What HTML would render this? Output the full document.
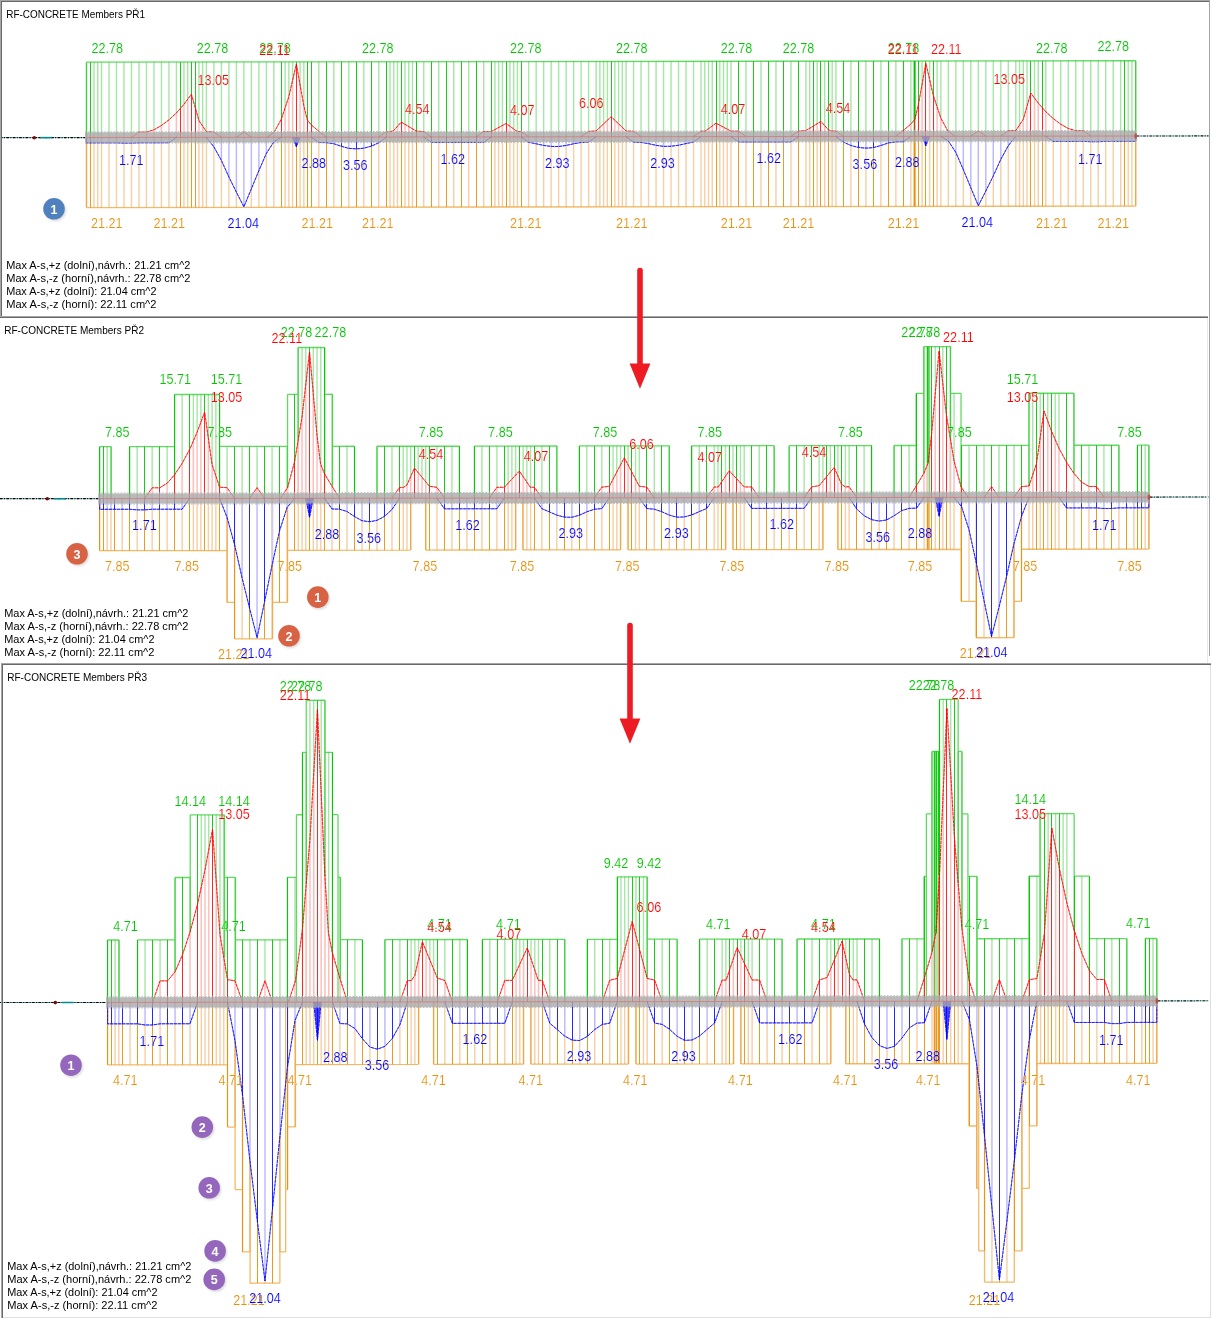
<!DOCTYPE html>
<html><head><meta charset="utf-8"><title>RF-CONCRETE Members</title>
<style>
html,body{margin:0;padding:0;background:#fff}
svg{display:block}
text{font-family:"Liberation Sans",sans-serif}
.lb text{font-size:15px;stroke:#fff;stroke-width:.15px}
.tt{font-size:11px;fill:#000}
.st{font-size:11px;fill:#000}
.cn{font-size:12.5px;font-weight:bold;fill:#fff;text-anchor:middle}
</style></head><body>
<svg width="1211" height="1320" viewBox="0 0 1211 1320">
<defs><filter id="bl" x="-30%" y="-30%" width="160%" height="160%"><feGaussianBlur stdDeviation="0.9"/></filter></defs>
<rect x="0" y="0" width="1211" height="1320" fill="#fff"/>
<g id="p1"><path d="M86.5 137.5V62.21M93.99 137.49V62.2M97.74 137.48V62.2M101.49 137.48V62.19M108.98 137.47V62.18M116.48 137.46V62.17M123.97 137.45V62.16M131.47 137.44V62.15M138.96 137.43V62.14M146.45 137.41V62.13M153.95 137.4V62.12M161.44 137.39V62.1M168.94 137.38V62.09M176.43 137.37V62.08M183.93 137.36V62.07M187.67 137.36V62.07M198.91 137.34V62.05M202.66 137.33V62.05M206.41 137.33V62.04M213.9 137.32V62.03M221.4 137.31V62.02M228.89 137.3V62.01M236.39 137.29V62M243.88 137.28V61.99M251.37 137.26V61.98M258.87 137.25V61.97M266.36 137.24V61.95M273.86 137.23V61.94M285.1 137.22V61.93M288.85 137.21V61.92M292.59 137.21V61.92M300.09 137.19V61.91M303.83 137.19V61.9M318.82 137.17V61.88M333.81 137.15V61.86M348.8 137.12V61.84M363.79 137.1V61.82M378.78 137.08V61.79M390.02 137.07V61.78M393.77 137.06V61.77M397.51 137.06V61.77M405.01 137.04V61.76M408.75 137.04V61.75M412.5 137.03V61.75M423.74 137.02V61.73M438.73 137V61.71M453.72 136.97V61.69M468.71 136.95V61.67M483.7 136.93V61.64M494.94 136.92V61.63M498.69 136.91V61.62M502.43 136.91V61.62M509.93 136.89V61.61M513.67 136.89V61.6M517.42 136.88V61.6M528.66 136.87V61.58M536.16 136.86V61.57M543.65 136.85V61.56M551.15 136.84V61.55M558.64 136.82V61.54M566.13 136.81V61.53M573.63 136.8V61.52M581.12 136.79V61.5M588.62 136.78V61.49M596.11 136.77V61.48M599.86 136.77V61.48M603.61 136.76V61.47M607.35 136.76V61.47M614.85 136.74V61.46M618.59 136.74V61.45M622.34 136.73V61.45M626.09 136.73V61.44M633.58 136.72V61.43M641.08 136.71V61.42M648.57 136.7V61.41M656.07 136.69V61.4M663.56 136.68V61.39M671.05 136.66V61.38M678.55 136.65V61.37M686.04 136.64V61.35M693.54 136.63V61.34M701.03 136.62V61.33M704.78 136.62V61.33M708.53 136.61V61.32M712.27 136.61V61.32M719.77 136.59V61.31M723.51 136.59V61.3M727.26 136.58V61.3M731.01 136.58V61.29M746 136.56V61.27M760.99 136.54V61.25M775.97 136.51V61.23M790.96 136.49V61.2M805.95 136.47V61.18M809.7 136.47V61.18M817.19 136.46V61.17M824.69 136.44V61.16M832.18 136.43V61.15M835.93 136.43V61.14M850.92 136.41V61.12M865.91 136.39V61.1M880.89 136.36V61.08M895.88 136.34V61.05M910.87 136.32V61.03M922.11 136.31V61.02M929.61 136.29V61.01M937.1 136.28V61M940.85 136.28V60.99M948.34 136.27V60.98M955.84 136.26V60.97M963.33 136.25V60.96M970.83 136.24V60.95M978.32 136.22V60.94M985.81 136.21V60.93M993.31 136.2V60.92M1000.8 136.19V60.9M1008.3 136.18V60.89M1015.79 136.17V60.88M1019.54 136.17V60.88M1023.29 136.16V60.87M1027.03 136.16V60.87M1034.53 136.14V60.86M1038.27 136.14V60.85M1045.77 136.13V60.84M1053.26 136.12V60.83M1060.76 136.11V60.82M1068.25 136.1V60.81M1075.75 136.09V60.8M1083.24 136.07V60.79M1090.73 136.06V60.78M1098.23 136.05V60.77M1105.72 136.04V60.75M1113.22 136.03V60.74M1120.71 136.02V60.73M1128.21 136.01V60.72M1131.95 136.01V60.72M1135.7 136V60.71" stroke="#a6e6a6" stroke-width="1.4" fill="none"/>
<path d="M90.5 137.49V62.21M180.5 137.37V62.08M191.5 137.35V62.06M195.5 137.34V62.06M281.5 137.22V61.93M296.5 137.2V61.91M307.5 137.18V61.9M311.5 137.18V61.89M326.5 137.16V61.87M341.5 137.14V61.85M356.5 137.11V61.83M371.5 137.09V61.8M386.5 137.07V61.78M401.5 137.05V61.76M416.5 137.03V61.74M431.5 137.01V61.72M446.5 136.99V61.7M461.5 136.96V61.68M476.5 136.94V61.65M491.5 136.92V61.63M506.5 136.9V61.61M521.5 136.88V61.59M611.5 136.75V61.46M716.5 136.6V61.31M738.5 136.57V61.28M753.5 136.55V61.26M768.5 136.53V61.24M783.5 136.5V61.22M798.5 136.48V61.19M813.5 136.46V61.17M820.5 136.45V61.16M828.5 136.44V61.15M843.5 136.42V61.13M858.5 136.4V61.11M873.5 136.38V61.09M888.5 136.35V61.07M903.5 136.33V61.04M914.5 136.32V61.03M918.5 136.31V61.02M925.5 136.3V61.01M933.5 136.29V61M1030.5 136.15V60.86M1042.5 136.13V60.85M1124.5 136.02V60.73" stroke="#00c400" stroke-width="1" fill="none" opacity=".9"/>
<path d="M86.5 137.5V62.21M1135.7 136V60.71M86.5 62.21L1135.7 60.71" stroke="#00c400" stroke-width="1.3" fill="none" opacity=".62"/>
<path d="M86.5 137.5V207.6M93.99 137.49V207.59M97.74 137.48V207.58M101.49 137.48V207.58M108.98 137.47V207.57M116.48 137.46V207.56M123.97 137.45V207.55M131.47 137.44V207.53M138.96 137.43V207.52M146.45 137.41V207.51M153.95 137.4V207.5M161.44 137.39V207.49M168.94 137.38V207.48M176.43 137.37V207.47M183.93 137.36V207.46M187.67 137.36V207.45M198.91 137.34V207.44M202.66 137.33V207.43M206.41 137.33V207.43M213.9 137.32V207.42M221.4 137.31V207.41M228.89 137.3V207.4M236.39 137.29V207.38M243.88 137.28V207.37M251.37 137.26V207.36M258.87 137.25V207.35M266.36 137.24V207.34M273.86 137.23V207.33M285.1 137.22V207.32M288.85 137.21V207.31M292.59 137.21V207.3M300.09 137.19V207.29M303.83 137.19V207.29M318.82 137.17V207.27M333.81 137.15V207.25M348.8 137.12V207.22M363.79 137.1V207.2M378.78 137.08V207.18M390.02 137.07V207.17M393.77 137.06V207.16M397.51 137.06V207.15M405.01 137.04V207.14M408.75 137.04V207.14M412.5 137.03V207.13M423.74 137.02V207.12M438.73 137V207.1M453.72 136.97V207.07M468.71 136.95V207.05M483.7 136.93V207.03M494.94 136.92V207.02M498.69 136.91V207.01M502.43 136.91V207M509.93 136.89V206.99M513.67 136.89V206.99M517.42 136.88V206.98M528.66 136.87V206.97M536.16 136.86V206.96M543.65 136.85V206.95M551.15 136.84V206.93M558.64 136.82V206.92M566.13 136.81V206.91M573.63 136.8V206.9M581.12 136.79V206.89M588.62 136.78V206.88M596.11 136.77V206.87M599.86 136.77V206.87M603.61 136.76V206.86M607.35 136.76V206.85M614.85 136.74V206.84M618.59 136.74V206.84M622.34 136.73V206.83M626.09 136.73V206.83M633.58 136.72V206.82M641.08 136.71V206.81M648.57 136.7V206.8M656.07 136.69V206.78M663.56 136.68V206.77M671.05 136.66V206.76M678.55 136.65V206.75M686.04 136.64V206.74M693.54 136.63V206.73M701.03 136.62V206.72M704.78 136.62V206.72M708.53 136.61V206.71M712.27 136.61V206.7M719.77 136.59V206.69M723.51 136.59V206.69M727.26 136.58V206.68M731.01 136.58V206.68M746 136.56V206.66M760.99 136.54V206.63M775.97 136.51V206.61M790.96 136.49V206.59M805.95 136.47V206.57M809.7 136.47V206.57M817.19 136.46V206.55M824.69 136.44V206.54M832.18 136.43V206.53M835.93 136.43V206.53M850.92 136.41V206.51M865.91 136.39V206.48M880.89 136.36V206.46M895.88 136.34V206.44M910.87 136.32V206.42M922.11 136.31V206.4M929.61 136.29V206.39M937.1 136.28V206.38M940.85 136.28V206.38M948.34 136.27V206.37M955.84 136.26V206.36M963.33 136.25V206.35M970.83 136.24V206.33M978.32 136.22V206.32M985.81 136.21V206.31M993.31 136.2V206.3M1000.8 136.19V206.29M1008.3 136.18V206.28M1015.79 136.17V206.27M1019.54 136.17V206.27M1023.29 136.16V206.26M1027.03 136.16V206.25M1034.53 136.14V206.24M1038.27 136.14V206.24M1045.77 136.13V206.23M1053.26 136.12V206.22M1060.76 136.11V206.21M1068.25 136.1V206.2M1075.75 136.09V206.18M1083.24 136.07V206.17M1090.73 136.06V206.16M1098.23 136.05V206.15M1105.72 136.04V206.14M1113.22 136.03V206.13M1120.71 136.02V206.12M1128.21 136.01V206.11M1131.95 136.01V206.1M1135.7 136V206.1" stroke="#f6cfa4" stroke-width="1.4" fill="none"/>
<path d="M90.5 137.49V207.59M180.5 137.37V207.47M191.5 137.35V207.45M195.5 137.34V207.44M281.5 137.22V207.32M296.5 137.2V207.3M307.5 137.18V207.28M311.5 137.18V207.28M326.5 137.16V207.26M341.5 137.14V207.23M356.5 137.11V207.21M371.5 137.09V207.19M386.5 137.07V207.17M401.5 137.05V207.15M416.5 137.03V207.13M431.5 137.01V207.11M446.5 136.99V207.08M461.5 136.96V207.06M476.5 136.94V207.04M491.5 136.92V207.02M506.5 136.9V207M521.5 136.88V206.98M611.5 136.75V206.85M716.5 136.6V206.7M738.5 136.57V206.67M753.5 136.55V206.65M768.5 136.53V206.62M783.5 136.5V206.6M798.5 136.48V206.58M813.5 136.46V206.56M820.5 136.45V206.55M828.5 136.44V206.54M843.5 136.42V206.52M858.5 136.4V206.5M873.5 136.38V206.47M888.5 136.35V206.45M903.5 136.33V206.43M914.5 136.32V206.42M918.5 136.31V206.41M925.5 136.3V206.4M933.5 136.29V206.39M1030.5 136.15V206.25M1042.5 136.13V206.23M1124.5 136.02V206.12" stroke="#e8900a" stroke-width="1" fill="none" opacity=".9"/>
<path d="M86.5 137.5V207.6M1135.7 136V206.1M86.5 207.6L1135.7 206.1" stroke="#e8900a" stroke-width="1.3" fill="none" opacity=".62"/>
<path d="M914.62 136.32V61.03" stroke="#00c400" stroke-width="2.2" opacity=".9"/>
<path d="M914.62 136.32V206.42" stroke="#e8900a" stroke-width="2.2" opacity=".9"/>
<path d="M138.96 137.43V132.07M146.45 137.41V132.06M153.95 137.4V129.8M161.44 137.39V125.49M168.94 137.38V119.87M176.43 137.37V112.91M183.93 137.36V104.31M187.67 137.36V99.27M198.91 137.34V120.48M202.66 137.33V126.1M206.41 137.33V131.71M213.9 137.32V131.96M243.88 137.28V131.92M273.86 137.23V132.26M285.1 137.22V107.8M288.85 137.21V96.56M292.59 137.21V80.34M300.09 137.19V84.96M303.83 137.19V105.79M318.82 137.17V131.22M390.02 137.07V131.71M393.77 137.06V130.45M397.51 137.06V126.25M405.01 137.04V124.3M408.75 137.04V126.56M412.5 137.03V128.82M423.74 137.02V131.66M483.7 136.93V131.58M494.94 136.92V129.54M498.69 136.91V127.51M502.43 136.91V125.48M509.93 136.89V126.2M513.67 136.89V128.96M517.42 136.88V131.53M588.62 136.78V131.43M596.11 136.77V130.99M599.86 136.77V127.42M603.61 136.76V123.85M607.35 136.76V120.29M614.85 136.74V120.28M618.59 136.74V123.83M622.34 136.73V127.39M626.09 136.73V130.94M633.58 136.72V131.36M701.03 136.62V131.27M704.78 136.62V131.26M708.53 136.61V128.68M712.27 136.61V125.91M719.77 136.59V125.17M723.51 136.59V127.19M727.26 136.58V129.21M731.01 136.58V131.22M805.95 136.47V130.52M809.7 136.47V128.25M817.19 136.46V123.71M824.69 136.44V125.64M832.18 136.43V131.08M835.93 136.43V131.07M910.87 136.32V124.09M922.11 136.31V84.07M929.61 136.29V79.43M937.1 136.28V106.87M940.85 136.28V118.1M948.34 136.27V131.3M978.32 136.22V130.87M1008.3 136.18V130.83M1015.79 136.17V130.55M1019.54 136.17V124.93M1023.29 136.16V119.31M1027.03 136.16V106.16M1034.53 136.14V98.05M1038.27 136.14V103.09M1045.77 136.13V111.67M1053.26 136.12V118.6M1060.76 136.11V124.21M1068.25 136.1V128.49M1075.75 136.09V130.73M1083.24 136.07V130.72M180.5 137.37V108.61M191.5 137.35V94.22M195.5 137.34V107.35M281.5 137.22V119.04M296.5 137.2V64.13M307.5 137.18V120.31M311.5 137.18V124.95M386.5 137.07V131.72M401.5 137.05V122.05M416.5 137.03V131.08M491.5 136.92V131.57M506.5 136.9V123.45M521.5 136.88V131.52M611.5 136.75V116.72M716.5 136.6V123.15M738.5 136.57V131.21M798.5 136.48V131.13M813.5 136.46V125.98M820.5 136.45V121.45M828.5 136.44V129.83M903.5 136.33V130.38M914.5 136.32V119.44M918.5 136.31V104.91M925.5 136.3V63.23M933.5 136.29V95.64M1030.5 136.15V93.02M1042.5 136.13V107.38" stroke="#fff" stroke-width="1.8" fill="none"/>
<path d="M138.96 137.43V132.07M146.45 137.41V132.06M153.95 137.4V129.8M161.44 137.39V125.49M168.94 137.38V119.87M176.43 137.37V112.91M183.93 137.36V104.31M187.67 137.36V99.27M198.91 137.34V120.48M202.66 137.33V126.1M206.41 137.33V131.71M213.9 137.32V131.96M243.88 137.28V131.92M273.86 137.23V132.26M285.1 137.22V107.8M288.85 137.21V96.56M292.59 137.21V80.34M300.09 137.19V84.96M303.83 137.19V105.79M318.82 137.17V131.22M390.02 137.07V131.71M393.77 137.06V130.45M397.51 137.06V126.25M405.01 137.04V124.3M408.75 137.04V126.56M412.5 137.03V128.82M423.74 137.02V131.66M483.7 136.93V131.58M494.94 136.92V129.54M498.69 136.91V127.51M502.43 136.91V125.48M509.93 136.89V126.2M513.67 136.89V128.96M517.42 136.88V131.53M588.62 136.78V131.43M596.11 136.77V130.99M599.86 136.77V127.42M603.61 136.76V123.85M607.35 136.76V120.29M614.85 136.74V120.28M618.59 136.74V123.83M622.34 136.73V127.39M626.09 136.73V130.94M633.58 136.72V131.36M701.03 136.62V131.27M704.78 136.62V131.26M708.53 136.61V128.68M712.27 136.61V125.91M719.77 136.59V125.17M723.51 136.59V127.19M727.26 136.58V129.21M731.01 136.58V131.22M805.95 136.47V130.52M809.7 136.47V128.25M817.19 136.46V123.71M824.69 136.44V125.64M832.18 136.43V131.08M835.93 136.43V131.07M910.87 136.32V124.09M922.11 136.31V84.07M929.61 136.29V79.43M937.1 136.28V106.87M940.85 136.28V118.1M948.34 136.27V131.3M978.32 136.22V130.87M1008.3 136.18V130.83M1015.79 136.17V130.55M1019.54 136.17V124.93M1023.29 136.16V119.31M1027.03 136.16V106.16M1034.53 136.14V98.05M1038.27 136.14V103.09M1045.77 136.13V111.67M1053.26 136.12V118.6M1060.76 136.11V124.21M1068.25 136.1V128.49M1075.75 136.09V130.73M1083.24 136.07V130.72" stroke="#ffbcbc" stroke-width="1.4" fill="none"/>
<path d="M180.5 137.37V108.61M191.5 137.35V94.22M195.5 137.34V107.35M281.5 137.22V119.04M296.5 137.2V64.13M307.5 137.18V120.31M311.5 137.18V124.95M386.5 137.07V131.72M401.5 137.05V122.05M416.5 137.03V131.08M491.5 136.92V131.57M506.5 136.9V123.45M521.5 136.88V131.52M611.5 136.75V116.72M716.5 136.6V123.15M738.5 136.57V131.21M798.5 136.48V131.13M813.5 136.46V125.98M820.5 136.45V121.45M828.5 136.44V129.83M903.5 136.33V130.38M914.5 136.32V119.44M918.5 136.31V104.91M925.5 136.3V63.23M933.5 136.29V95.64M1030.5 136.15V93.02M1042.5 136.13V107.38" stroke="#ff0000" stroke-width="1" fill="none" opacity=".85"/>
<path d="M131.47 137.44L138.96 132.07L146.45 132.06L153.95 129.8L161.44 125.49L168.94 119.87L176.43 112.91L183.93 104.31L191.42 94.22L198.91 120.48L206.41 131.71L213.9 131.96L221.4 137.31M236.39 137.29L243.88 131.92L251.37 137.26M267.36 137.24L274.36 131.88L281.35 119.04L288.85 96.56L296.34 64.13L303.83 105.79L307.33 120L311.33 124.95L318.82 131.22L326.32 137.16M378.78 137.08L386.27 131.72L390.27 131.71L393.77 130.45L401.26 122.05L416.25 131.08L423.74 131.66L431.24 137.01M476.2 136.94L483.7 131.58L491.19 131.57L506.18 123.45L517.17 131.53L521.17 131.52L528.66 136.87M581.12 136.79L588.62 131.43L596.11 130.99L611.1 116.72L626.09 130.94L633.58 131.36L641.08 136.71M693.54 136.63L701.03 131.27L705.03 131.26L716.02 123.15L731.01 131.22L738.5 131.21L746 136.56M790.96 136.49L798.46 131.13L805.95 130.52L820.94 121.45L828.43 129.83L831.93 131.08L835.93 131.07L843.42 136.42M895.88 136.34L903.38 130.38L910.87 124.09L914.87 119.13L918.37 104.91L925.86 63.23L933.35 95.64L940.85 118.1L947.84 130.91L954.84 136.26M970.83 136.24L978.32 130.87L985.81 136.21M1000.8 136.19L1008.3 130.83L1015.79 130.55L1023.29 119.31L1030.78 93.02L1038.27 103.09L1045.77 111.67L1053.26 118.6L1060.76 124.21L1068.25 128.49L1075.75 130.73L1083.24 130.72L1090.73 136.06" stroke="#ff0000" stroke-width=".95" fill="none" opacity=".5" stroke-linejoin="round"/>
<path d="M131.47 137.44L138.96 132.07L146.45 132.06L153.95 129.8L161.44 125.49L168.94 119.87L176.43 112.91L183.93 104.31L191.42 94.22L198.91 120.48L206.41 131.71L213.9 131.96L221.4 137.31M236.39 137.29L243.88 131.92L251.37 137.26M267.36 137.24L274.36 131.88L281.35 119.04L288.85 96.56L296.34 64.13L303.83 105.79L307.33 120L311.33 124.95L318.82 131.22L326.32 137.16M378.78 137.08L386.27 131.72L390.27 131.71L393.77 130.45L401.26 122.05L416.25 131.08L423.74 131.66L431.24 137.01M476.2 136.94L483.7 131.58L491.19 131.57L506.18 123.45L517.17 131.53L521.17 131.52L528.66 136.87M581.12 136.79L588.62 131.43L596.11 130.99L611.1 116.72L626.09 130.94L633.58 131.36L641.08 136.71M693.54 136.63L701.03 131.27L705.03 131.26L716.02 123.15L731.01 131.22L738.5 131.21L746 136.56M790.96 136.49L798.46 131.13L805.95 130.52L820.94 121.45L828.43 129.83L831.93 131.08L835.93 131.07L843.42 136.42M895.88 136.34L903.38 130.38L910.87 124.09L914.87 119.13L918.37 104.91L925.86 63.23L933.35 95.64L940.85 118.1L947.84 130.91L954.84 136.26M970.83 136.24L978.32 130.87L985.81 136.21M1000.8 136.19L1008.3 130.83L1015.79 130.55L1023.29 119.31L1030.78 93.02L1038.27 103.09L1045.77 111.67L1053.26 118.6L1060.76 124.21L1068.25 128.49L1075.75 130.73L1083.24 130.72L1090.73 136.06" stroke="#ff0000" stroke-width=".95" fill="none" opacity=".8" stroke-linejoin="round" stroke-dasharray="3 1"/>
<path d="M93.99 137.49V142.84M97.74 137.48V142.84M101.49 137.48V142.83M108.98 137.47V142.82M116.48 137.46V142.81M123.97 137.45V143.1M131.47 137.44V143.09M138.96 137.43V142.78M146.45 137.41V142.77M153.95 137.4V142.76M161.44 137.39V142.75M168.94 137.38V142.74M213.9 137.32V146.9M221.4 137.31V160.44M228.89 137.3V176.96M236.39 137.29V192.15M243.88 137.28V206.81M251.37 137.26V188.82M258.87 137.25V170.63M266.36 137.24V153.44M273.86 137.23V141.86M318.82 137.17V142.52M333.81 137.15V143.76M348.8 137.12V148.36M363.79 137.1V148.18M378.78 137.08V142.77M438.73 137V142.35M453.72 136.97V142.33M468.71 136.95V142.31M483.7 136.93V142.29M528.66 136.87V142.22M536.16 136.86V143.8M543.65 136.85V145.44M551.15 136.84V146.42M558.64 136.82V146.51M566.13 136.81V145.47M573.63 136.8V143.74M581.12 136.79V142.48M588.62 136.78V142.14M633.58 136.72V142.07M641.08 136.71V142.39M648.57 136.7V143.64M656.07 136.69V145.34M663.56 136.68V146.36M671.05 136.66V146.25M678.55 136.65V145.25M686.04 136.64V143.58M693.54 136.63V141.99M746 136.56V141.91M760.99 136.54V141.89M775.97 136.51V141.87M790.96 136.49V141.85M850.92 136.41V145.5M865.91 136.39V148.15M880.89 136.36V145.52M895.88 136.34V141.8M948.34 136.27V140.89M955.84 136.26V152.45M963.33 136.25V169.63M970.83 136.24V187.79M978.32 136.22V205.76M985.81 136.21V191.08M993.31 136.2V175.86M1000.8 136.19V159.33M1008.3 136.18V145.77M1053.26 136.12V141.47M1060.76 136.11V141.46M1068.25 136.1V141.45M1075.75 136.09V141.44M1083.24 136.07V141.43M1090.73 136.06V141.72M1098.23 136.05V141.71M1105.72 136.04V141.4M1113.22 136.03V141.39M1120.71 136.02V141.38M1128.21 136.01V141.36M1131.95 136.01V141.36M90.5 137.49V142.85M296.5 137.2V146.72M326.5 137.16V142.61M341.5 137.14V146.29M356.5 137.11V148.88M371.5 137.09V146.18M431.5 137.01V142.36M446.5 136.99V142.34M461.5 136.96V142.32M476.5 136.94V142.3M738.5 136.57V141.92M753.5 136.55V141.9M768.5 136.53V141.88M783.5 136.5V141.86M843.5 136.42V142.1M858.5 136.4V147.47M873.5 136.38V147.61M888.5 136.35V142.96M903.5 136.33V141.69M925.5 136.3V145.82M1124.5 136.02V141.37" stroke="#fff" stroke-width="1.8" fill="none"/>
<path d="M93.99 137.49V142.84M97.74 137.48V142.84M101.49 137.48V142.83M108.98 137.47V142.82M116.48 137.46V142.81M123.97 137.45V143.1M131.47 137.44V143.09M138.96 137.43V142.78M146.45 137.41V142.77M153.95 137.4V142.76M161.44 137.39V142.75M168.94 137.38V142.74M213.9 137.32V146.9M221.4 137.31V160.44M228.89 137.3V176.96M236.39 137.29V192.15M243.88 137.28V206.81M251.37 137.26V188.82M258.87 137.25V170.63M266.36 137.24V153.44M273.86 137.23V141.86M318.82 137.17V142.52M333.81 137.15V143.76M348.8 137.12V148.36M363.79 137.1V148.18M378.78 137.08V142.77M438.73 137V142.35M453.72 136.97V142.33M468.71 136.95V142.31M483.7 136.93V142.29M528.66 136.87V142.22M536.16 136.86V143.8M543.65 136.85V145.44M551.15 136.84V146.42M558.64 136.82V146.51M566.13 136.81V145.47M573.63 136.8V143.74M581.12 136.79V142.48M588.62 136.78V142.14M633.58 136.72V142.07M641.08 136.71V142.39M648.57 136.7V143.64M656.07 136.69V145.34M663.56 136.68V146.36M671.05 136.66V146.25M678.55 136.65V145.25M686.04 136.64V143.58M693.54 136.63V141.99M746 136.56V141.91M760.99 136.54V141.89M775.97 136.51V141.87M790.96 136.49V141.85M850.92 136.41V145.5M865.91 136.39V148.15M880.89 136.36V145.52M895.88 136.34V141.8M948.34 136.27V140.89M955.84 136.26V152.45M963.33 136.25V169.63M970.83 136.24V187.79M978.32 136.22V205.76M985.81 136.21V191.08M993.31 136.2V175.86M1000.8 136.19V159.33M1008.3 136.18V145.77M1053.26 136.12V141.47M1060.76 136.11V141.46M1068.25 136.1V141.45M1075.75 136.09V141.44M1083.24 136.07V141.43M1090.73 136.06V141.72M1098.23 136.05V141.71M1105.72 136.04V141.4M1113.22 136.03V141.39M1120.71 136.02V141.38M1128.21 136.01V141.36M1131.95 136.01V141.36" stroke="#b9b9ff" stroke-width="1.4" fill="none"/>
<path d="M90.5 137.49V142.85M296.5 137.2V146.72M326.5 137.16V142.61M341.5 137.14V146.29M356.5 137.11V148.88M371.5 137.09V146.18M431.5 137.01V142.36M446.5 136.99V142.34M461.5 136.96V142.32M476.5 136.94V142.3M738.5 136.57V141.92M753.5 136.55V141.9M768.5 136.53V141.88M783.5 136.5V141.86M843.5 136.42V142.1M858.5 136.4V147.47M873.5 136.38V147.61M888.5 136.35V142.96M903.5 136.33V141.69M925.5 136.3V145.82M1124.5 136.02V141.37" stroke="#0000ff" stroke-width="1" fill="none" opacity=".85"/>
<path d="M86.5 137.5L86.51 142.85L116.48 142.81L123.97 143.1L131.47 143.09L138.96 142.78L168.94 142.74L176.43 137.37M206.41 137.33L213.9 146.9L221.4 160.44L228.89 176.96L236.39 192.15L243.88 206.81L251.37 188.82L258.87 170.63L266.36 153.44L273.86 141.86L281.35 137.22M292.59 137.21L296.34 146.72L300.09 137.19M311.33 137.18L318.82 142.52L326.32 142.61L333.81 143.76L341.31 146.29L348.8 148.36L356.29 148.88L363.79 148.18L371.28 146.18L378.78 142.77L386.27 137.07M423.74 137.02L431.24 142.36L483.7 142.29L491.19 136.92M521.17 136.88L528.66 142.22L536.16 143.8L543.65 145.44L551.15 146.42L558.64 146.51L566.13 145.47L573.63 143.74L581.12 142.48L588.62 142.14L596.11 136.77M626.09 136.73L633.58 142.07L641.08 142.39L648.57 143.64L656.07 145.34L663.56 146.36L671.05 146.25L678.55 145.25L686.04 143.58L693.54 141.99L701.03 136.62M731.01 136.58L738.5 141.92L790.96 141.85L798.46 136.48M835.93 136.43L843.42 142.1L850.92 145.5L858.41 147.47L865.91 148.15L873.4 147.61L880.89 145.52L888.39 142.96L895.88 141.8L903.38 141.69L910.87 136.32M922.11 136.31L925.86 145.82L929.61 136.29M940.85 136.28L948.34 140.89L955.84 152.45L963.33 169.63L970.83 187.79L978.32 205.76L985.81 191.08L993.31 175.86L1000.8 159.33L1008.3 145.77L1015.79 136.17M1045.77 136.13L1053.26 141.47L1083.24 141.43L1090.73 141.72L1098.23 141.71L1105.72 141.4L1135.69 141.35L1135.7 136" stroke="#0000ff" stroke-width=".95" fill="none" opacity=".5" stroke-linejoin="round"/>
<path d="M86.5 137.5L86.51 142.85L116.48 142.81L123.97 143.1L131.47 143.09L138.96 142.78L168.94 142.74L176.43 137.37M206.41 137.33L213.9 146.9L221.4 160.44L228.89 176.96L236.39 192.15L243.88 206.81L251.37 188.82L258.87 170.63L266.36 153.44L273.86 141.86L281.35 137.22M292.59 137.21L296.34 146.72L300.09 137.19M311.33 137.18L318.82 142.52L326.32 142.61L333.81 143.76L341.31 146.29L348.8 148.36L356.29 148.88L363.79 148.18L371.28 146.18L378.78 142.77L386.27 137.07M423.74 137.02L431.24 142.36L483.7 142.29L491.19 136.92M521.17 136.88L528.66 142.22L536.16 143.8L543.65 145.44L551.15 146.42L558.64 146.51L566.13 145.47L573.63 143.74L581.12 142.48L588.62 142.14L596.11 136.77M626.09 136.73L633.58 142.07L641.08 142.39L648.57 143.64L656.07 145.34L663.56 146.36L671.05 146.25L678.55 145.25L686.04 143.58L693.54 141.99L701.03 136.62M731.01 136.58L738.5 141.92L790.96 141.85L798.46 136.48M835.93 136.43L843.42 142.1L850.92 145.5L858.41 147.47L865.91 148.15L873.4 147.61L880.89 145.52L888.39 142.96L895.88 141.8L903.38 141.69L910.87 136.32M922.11 136.31L925.86 145.82L929.61 136.29M940.85 136.28L948.34 140.89L955.84 152.45L963.33 169.63L970.83 187.79L978.32 205.76L985.81 191.08L993.31 175.86L1000.8 159.33L1008.3 145.77L1015.79 136.17M1045.77 136.13L1053.26 141.47L1083.24 141.43L1090.73 141.72L1098.23 141.71L1105.72 141.4L1135.69 141.35L1135.7 136" stroke="#0000ff" stroke-width=".95" fill="none" opacity=".8" stroke-linejoin="round" stroke-dasharray="3 1"/>
<polygon points="292.94,137.2 296.34,146.72 299.74,137.2" fill="#0000ff" opacity=".75"/>
<polygon points="922.46,136.3 925.86,145.82 929.26,136.3" fill="#0000ff" opacity=".75"/>
<polygon points="85,132.3 1136.2,130.8 1136.2,141.2 85,142.7" fill="#a9a9a9" opacity=".8"/>
<path d="M85 131.9L1136.2 130.4" stroke="#b2b2b2" stroke-width="1" stroke-dasharray="1.6 1.6" opacity=".86"/>
<path d="M85 143.1L1136.2 141.6" stroke="#b2b2b2" stroke-width="1" stroke-dasharray="1.6 1.6" opacity=".86"/>
<path d="M86.5 137.5L1135.7 136" stroke="#e25a5a" stroke-width="1" opacity=".55"/><path d="M0 137.6 H85" stroke="#2a9090" stroke-width="1" opacity=".75"/>
<path d="M0 137.6 H85" stroke="#000" stroke-width="1.2" stroke-dasharray="2.6 1.4 1 1.4"/>
<path d="M40 137.6 H51.8" stroke="#008c8c" stroke-width="1.5"/>
<circle cx="34.3" cy="137.7" r="1.8" fill="#7a0a0a"/>
<path d="M1136.7 136L1208.5 135.9" stroke="#2a9090" stroke-width="1" opacity=".6"/>
<path d="M1136.7 136L1208.5 135.9" stroke="#111" stroke-width="1.1" stroke-dasharray="2.6 1.4 1 1.4" opacity=".9"/>
<rect x="1134.5" y="133.5" width="2.4" height="5" fill="#c04030" opacity=".8"/></g>
<g id="p2"><path d="M107.19 498.59V446.62M110.94 498.58V446.62M137.17 498.55V446.58M152.16 498.53V446.56M167.15 498.5V446.54M182.14 498.48V394.48M193.38 498.47V394.47M197.13 498.46V394.46M200.87 498.46V394.46M208.37 498.44V394.44M212.11 498.44V394.44M215.86 498.43V394.43M227.1 498.42V446.45M242.09 498.4V446.43M257.08 498.38V446.41M272.07 498.35V446.39M287.06 498.33V446.37M298.3 498.32V347.51M302.05 498.31V347.51M305.79 498.31V347.5M313.29 498.29V347.49M317.03 498.29V347.49M320.78 498.28V347.48M332.02 498.27V394.27M347.01 498.25V446.28M376.99 498.2V446.24M391.98 498.18V446.22M403.22 498.17V446.2M406.97 498.16V446.19M410.71 498.16V446.19M418.21 498.14V446.18M421.95 498.14V446.17M425.7 498.13V446.17M436.94 498.12V446.15M451.93 498.1V446.13M481.91 498.05V446.09M496.9 498.03V446.07M508.14 498.02V446.05M511.89 498.01V446.04M515.63 498.01V446.04M523.13 497.99V446.03M526.87 497.99V446.02M530.62 497.98V446.02M541.86 497.97V446M556.85 497.95V445.98M586.83 497.9V445.94M601.82 497.88V445.92M613.06 497.87V445.9M616.81 497.86V445.89M620.55 497.86V445.89M628.05 497.84V445.88M635.54 497.83V445.87M639.29 497.83V445.86M654.28 497.81V445.84M669.27 497.79V445.82M699.24 497.74V445.78M714.23 497.72V445.75M717.98 497.72V445.75M725.47 497.71V445.74M732.97 497.69V445.73M740.46 497.68V445.72M744.21 497.68V445.71M759.2 497.66V445.69M774.19 497.64V445.67M789.17 497.61V445.65M804.16 497.59V445.63M819.15 497.57V445.6M822.9 497.57V445.6M830.39 497.56V445.59M837.89 497.54V445.58M845.38 497.53V445.57M849.13 497.53V445.56M864.12 497.51V445.54M894.09 497.46V445.5M909.08 497.44V445.48M924.07 497.42V346.62M927.82 497.42V346.61M935.31 497.41V346.6M942.81 497.39V346.59M950.3 497.38V346.58M954.05 497.38V393.38M969.04 497.36V445.39M984.03 497.34V445.37M999.01 497.31V445.35M1014 497.29V445.33M1028.99 497.27V393.27M1032.74 497.27V393.27M1040.23 497.26V393.26M1047.73 497.24V393.24M1055.22 497.23V393.23M1058.97 497.23V393.23M1073.96 497.21V393.21M1088.95 497.19V445.22M1103.93 497.16V445.2M1118.92 497.14V445.18M1145.15 497.11V445.14M1148.9 497.1V445.13" stroke="#a6e6a6" stroke-width="1.4" fill="none"/>
<path d="M99.5 498.6V446.63M103.5 498.59V446.63M129.5 498.56V446.59M144.5 498.54V446.57M159.5 498.51V446.55M174.5 498.49V394.49M189.5 498.47V394.47M204.5 498.45V394.45M219.5 498.43V394.43M234.5 498.41V446.44M249.5 498.39V446.42M264.5 498.36V446.4M279.5 498.34V446.38M294.5 498.32V394.32M309.5 498.3V347.5M324.5 498.28V347.47M339.5 498.26V446.29M354.5 498.24V446.27M384.5 498.19V446.23M399.5 498.17V446.2M414.5 498.15V446.18M429.5 498.13V446.16M444.5 498.11V446.14M459.5 498.09V446.12M474.5 498.06V446.1M489.5 498.04V446.08M504.5 498.02V446.05M519.5 498V446.03M534.5 497.98V446.01M549.5 497.96V445.99M579.5 497.91V445.95M594.5 497.89V445.93M609.5 497.87V445.9M624.5 497.85V445.88M631.5 497.84V445.87M646.5 497.82V445.85M661.5 497.8V445.83M691.5 497.75V445.79M706.5 497.73V445.77M721.5 497.71V445.74M729.5 497.7V445.73M736.5 497.69V445.72M751.5 497.67V445.7M766.5 497.65V445.68M796.5 497.6V445.64M811.5 497.58V445.62M826.5 497.56V445.59M834.5 497.55V445.58M841.5 497.54V445.57M856.5 497.52V445.55M871.5 497.5V445.53M901.5 497.45V445.49M916.5 497.43V393.43M931.5 497.41V346.61M939.5 497.4V346.6M946.5 497.39V346.59M961.5 497.37V445.4M976.5 497.35V445.38M991.5 497.33V445.36M1006.5 497.3V445.34M1021.5 497.28V445.32M1036.5 497.26V393.26M1043.5 497.25V393.25M1051.5 497.24V393.24M1066.5 497.22V393.22M1081.5 497.2V445.23M1096.5 497.18V445.21M1111.5 497.15V445.19M1137.5 497.12V445.15M1141.5 497.11V445.14" stroke="#00c400" stroke-width="1" fill="none" opacity=".9"/>
<path d="M99.7 498.6V446.63M111.19 498.58V446.62M99.7 446.63L111.19 446.62M129.68 498.56V446.59M174.64 498.49V446.53M129.68 446.59L174.64 446.53M174.64 498.49V394.49M219.61 498.43V394.43M174.64 394.49L219.61 394.43M219.61 498.43V446.46M287.56 498.33V446.36M219.61 446.46L287.56 446.36M287.56 498.33V394.33M298.05 498.32V394.32M287.56 394.33L298.05 394.32M298.05 498.32V347.51M324.83 498.28V347.47M298.05 347.51L324.83 347.47M324.83 498.28V394.28M332.52 498.27V394.27M324.83 394.28L332.52 394.27M332.52 498.27V446.3M354.51 498.24V446.27M332.52 446.3L354.51 446.27M376.99 498.2V446.24M459.43 498.09V446.12M376.99 446.24L459.43 446.12M474.41 498.06V446.1M556.85 497.95V445.98M474.41 446.1L556.85 445.98M579.33 497.91V445.95M669.27 497.79V445.82M579.33 445.95L669.27 445.82M691.75 497.75V445.79M774.19 497.64V445.67M691.75 445.79L774.19 445.67M789.17 497.61V445.65M871.61 497.5V445.53M789.17 445.65L871.61 445.53M894.09 497.46V445.5M916.08 497.43V445.47M894.09 445.5L916.08 445.47M916.08 497.43V393.43M923.77 497.42V393.42M916.08 393.43L923.77 393.42M923.77 497.42V346.62M950.55 497.38V346.58M923.77 346.62L950.55 346.58M950.55 497.38V393.38M961.04 497.37V393.37M950.55 393.38L961.04 393.37M961.04 497.37V445.4M1028.99 497.27V445.3M961.04 445.4L1028.99 445.3M1028.99 497.27V393.27M1073.96 497.21V393.21M1028.99 393.27L1073.96 393.21M1073.96 497.21V445.24M1118.92 497.14V445.18M1073.96 445.24L1118.92 445.18M1137.41 497.12V445.15M1148.9 497.1V445.13M1137.41 445.15L1148.9 445.13" stroke="#00c400" stroke-width="1.3" fill="none" opacity=".62"/>
<path d="M107.19 498.59V550.56M110.94 498.58V550.55M122.18 498.57V550.53M137.17 498.55V550.51M152.16 498.53V550.49M167.15 498.5V550.47M182.14 498.48V550.45M193.38 498.47V550.43M197.13 498.46V550.43M200.87 498.46V550.42M208.37 498.44V550.41M212.11 498.44V550.41M215.86 498.43V550.4M227.1 498.42V602.42M242.09 498.4V638.81M257.08 498.38V638.79M272.07 498.35V638.76M287.06 498.33V602.33M298.3 498.32V550.28M302.05 498.31V550.28M305.79 498.31V550.27M313.29 498.29V550.26M317.03 498.29V550.26M320.78 498.28V550.25M332.02 498.27V550.23M347.01 498.25V550.21M362 498.23V550.19M376.99 498.2V550.17M391.98 498.18V550.15M403.22 498.17V550.13M406.97 498.16V550.13M410.71 498.16V550.12M425.7 498.13V550.1M436.94 498.12V550.08M451.93 498.1V550.06M466.92 498.08V550.04M481.91 498.05V550.02M496.9 498.03V550M508.14 498.02V549.98M511.89 498.01V549.98M515.63 498.01V549.97M523.13 497.99V549.96M526.87 497.99V549.96M530.62 497.98V549.95M541.86 497.97V549.93M556.85 497.95V549.91M571.84 497.93V549.89M586.83 497.9V549.87M601.82 497.88V549.85M613.06 497.87V549.83M616.81 497.86V549.83M620.55 497.86V549.82M628.05 497.84V549.81M635.54 497.83V549.8M639.29 497.83V549.8M654.28 497.81V549.77M669.27 497.79V549.75M684.25 497.76V549.73M699.24 497.74V549.71M714.23 497.72V549.69M717.98 497.72V549.68M725.47 497.71V549.67M732.97 497.69V549.66M740.46 497.68V549.65M744.21 497.68V549.65M759.2 497.66V549.62M774.19 497.64V549.6M789.17 497.61V549.58M804.16 497.59V549.56M819.15 497.57V549.54M822.9 497.57V549.53M837.89 497.54V549.51M845.38 497.53V549.5M849.13 497.53V549.5M864.12 497.51V549.47M879.11 497.49V549.45M894.09 497.46V549.43M909.08 497.44V549.41M924.07 497.42V549.39M927.82 497.42V549.38M935.31 497.41V549.37M942.81 497.39V549.36M950.3 497.38V549.35M954.05 497.38V549.35M969.04 497.36V601.36M984.03 497.34V637.75M999.01 497.31V637.72M1014 497.29V637.7M1028.99 497.27V549.24M1032.74 497.27V549.23M1040.23 497.26V549.22M1047.73 497.24V549.21M1055.22 497.23V549.2M1058.97 497.23V549.2M1073.96 497.21V549.17M1088.95 497.19V549.15M1103.93 497.16V549.13M1118.92 497.14V549.11M1133.91 497.12V549.09M1145.15 497.11V549.07M1148.9 497.1V549.07" stroke="#f6cfa4" stroke-width="1.4" fill="none"/>
<path d="M99.5 498.6V550.57M103.5 498.59V550.56M114.5 498.58V550.55M129.5 498.56V550.52M144.5 498.54V550.5M159.5 498.51V550.48M174.5 498.49V550.46M189.5 498.47V550.44M204.5 498.45V550.42M219.5 498.43V550.4M234.5 498.41V638.82M249.5 498.39V638.8M264.5 498.36V638.77M279.5 498.34V602.34M294.5 498.32V550.29M309.5 498.3V550.27M324.5 498.28V550.25M339.5 498.26V550.22M354.5 498.24V550.2M369.5 498.21V550.18M384.5 498.19V550.16M399.5 498.17V550.14M429.5 498.13V550.1M444.5 498.11V550.07M459.5 498.09V550.05M474.5 498.06V550.03M489.5 498.04V550.01M504.5 498.02V549.99M534.5 497.98V549.95M549.5 497.96V549.92M564.5 497.94V549.9M579.5 497.91V549.88M594.5 497.89V549.86M609.5 497.87V549.84M631.5 497.84V549.81M646.5 497.82V549.78M661.5 497.8V549.76M676.5 497.78V549.74M691.5 497.75V549.72M706.5 497.73V549.7M721.5 497.71V549.68M736.5 497.69V549.66M751.5 497.67V549.63M766.5 497.65V549.61M781.5 497.62V549.59M796.5 497.6V549.57M811.5 497.58V549.55M841.5 497.54V549.51M856.5 497.52V549.48M871.5 497.5V549.46M886.5 497.48V549.44M901.5 497.45V549.42M916.5 497.43V549.4M931.5 497.41V549.38M939.5 497.4V549.37M946.5 497.39V549.36M961.5 497.37V601.37M976.5 497.35V637.76M991.5 497.33V637.74M1006.5 497.3V637.71M1021.5 497.28V601.28M1036.5 497.26V549.23M1043.5 497.25V549.22M1051.5 497.24V549.21M1066.5 497.22V549.18M1081.5 497.2V549.16M1096.5 497.18V549.14M1111.5 497.15V549.12M1126.5 497.13V549.1M1137.5 497.12V549.08M1141.5 497.11V549.08" stroke="#e8900a" stroke-width="1" fill="none" opacity=".9"/>
<path d="M99.7 498.6V550.57M227.1 498.42V550.38M99.7 550.57L227.1 550.38M227.1 498.42V602.42M234.6 498.41V602.41M227.1 602.42L234.6 602.41M234.6 498.41V638.82M272.57 498.35V638.76M234.6 638.82L272.57 638.76M272.57 498.35V602.35M287.56 498.33V602.33M272.57 602.35L287.56 602.33M287.56 498.33V550.3M410.71 498.16V550.12M287.56 550.3L410.71 550.12M425.7 498.13V550.1M515.63 498.01V549.97M425.7 550.1L515.63 549.97M522.88 498V549.96M620.55 497.86V549.82M522.88 549.96L620.55 549.82M628.05 497.84V549.81M725.72 497.71V549.67M628.05 549.81L725.72 549.67M732.97 497.69V549.66M822.9 497.57V549.53M732.97 549.66L822.9 549.53M837.89 497.54V549.51M961.04 497.37V549.34M837.89 549.51L961.04 549.34M961.04 497.37V601.37M976.03 497.35V601.35M961.04 601.37L976.03 601.35M976.03 497.35V637.76M1014 497.29V637.7M976.03 637.76L1014 637.7M1014 497.29V601.29M1021.5 497.28V601.28M1014 601.29L1021.5 601.28M1021.5 497.28V549.25M1148.9 497.1V549.07M1021.5 549.25L1148.9 549.07" stroke="#e8900a" stroke-width="1.3" fill="none" opacity=".62"/>
<path d="M927.37 497.42V346.61" stroke="#00c400" stroke-width="1.3" opacity=".9"/>
<path d="M927.37 497.42V549.38" stroke="#e8900a" stroke-width="1.3" opacity=".9"/>
<path d="M928.97 497.41V346.61" stroke="#00c400" stroke-width="1.3" opacity=".9"/>
<path d="M928.97 497.41V549.38" stroke="#e8900a" stroke-width="1.3" opacity=".9"/>
<path d="M152.16 498.53V487.8M167.15 498.5V483.28M182.14 498.48V463.4M193.38 498.47V440.87M197.13 498.46V432.26M200.87 498.46V422.16M208.37 498.44V438.37M212.11 498.44V464.68M215.86 498.43V475.93M227.1 498.42V487.69M257.08 498.38V487.65M287.06 498.33V488.37M298.3 498.32V439.4M302.05 498.31V416.88M305.79 498.31V384.41M313.29 498.29V393.67M317.03 498.29V435.4M320.78 498.28V464.48M332.02 498.27V486.35M403.22 498.17V487.44M406.97 498.16V484.92M410.71 498.16V476.51M418.21 498.14V472.62M421.95 498.14V477.15M425.7 498.13V481.68M436.94 498.12V487.39M496.9 498.03V487.31M508.14 498.02V483.24M511.89 498.01V479.18M515.63 498.01V475.12M523.13 497.99V476.58M526.87 497.99V482.1M530.62 497.98V487.26M601.82 497.88V487.16M613.06 497.87V479.15M616.81 497.86V472.01M620.55 497.86V464.87M628.05 497.84V464.86M635.54 497.83V479.12M639.29 497.83V486.24M714.23 497.72V487M717.98 497.72V486.99M725.47 497.71V476.29M732.97 497.69V474.81M740.46 497.68V482.9M744.21 497.68V486.95M819.15 497.57V485.66M822.9 497.57V481.12M830.39 497.56V472.04M837.89 497.54V475.9M845.38 497.53V486.81M849.13 497.53V486.8M924.07 497.42V472.93M927.82 497.42V463.61M935.31 497.41V392.78M942.81 497.39V383.5M950.3 497.38V438.47M954.05 497.38V460.97M1028.99 497.27V486.02M1032.74 497.27V474.76M1040.23 497.26V437.18M1047.73 497.24V420.95M1055.22 497.23V439.64M1058.97 497.23V448.24M1073.96 497.21V473.38M1088.95 497.19V486.46M159.5 498.51V487.79M174.5 498.49V474.66M189.5 498.47V449.48M204.5 498.45V412.06M219.5 498.43V487.17M294.5 498.32V461.91M309.5 498.3V351.93M324.5 498.28V473.78M399.5 498.17V487.45M414.5 498.15V468.1M429.5 498.13V486.21M504.5 498.02V487.3M519.5 498V471.06M534.5 497.98V487.25M609.5 497.87V486.29M624.5 497.85V457.73M631.5 497.84V471.99M646.5 497.82V487.09M721.5 497.71V481.83M729.5 497.7V470.76M736.5 497.69V478.86M751.5 497.67V486.94M811.5 497.58V486.86M826.5 497.56V476.58M834.5 497.55V467.5M841.5 497.54V484.3M916.5 497.43V485.52M931.5 497.41V434.52M939.5 497.4V351.03M946.5 497.39V415.96M961.5 497.37V487.41M991.5 497.33V486.6M1021.5 497.28V486.56M1036.5 497.26V463.5M1043.5 497.25V410.86M1051.5 497.24V431.04M1066.5 497.22V462.13M1081.5 497.2V481.97M1096.5 497.18V486.45" stroke="#fff" stroke-width="1.8" fill="none"/>
<path d="M152.16 498.53V487.8M167.15 498.5V483.28M182.14 498.48V463.4M193.38 498.47V440.87M197.13 498.46V432.26M200.87 498.46V422.16M208.37 498.44V438.37M212.11 498.44V464.68M215.86 498.43V475.93M227.1 498.42V487.69M257.08 498.38V487.65M287.06 498.33V488.37M298.3 498.32V439.4M302.05 498.31V416.88M305.79 498.31V384.41M313.29 498.29V393.67M317.03 498.29V435.4M320.78 498.28V464.48M332.02 498.27V486.35M403.22 498.17V487.44M406.97 498.16V484.92M410.71 498.16V476.51M418.21 498.14V472.62M421.95 498.14V477.15M425.7 498.13V481.68M436.94 498.12V487.39M496.9 498.03V487.31M508.14 498.02V483.24M511.89 498.01V479.18M515.63 498.01V475.12M523.13 497.99V476.58M526.87 497.99V482.1M530.62 497.98V487.26M601.82 497.88V487.16M613.06 497.87V479.15M616.81 497.86V472.01M620.55 497.86V464.87M628.05 497.84V464.86M635.54 497.83V479.12M639.29 497.83V486.24M714.23 497.72V487M717.98 497.72V486.99M725.47 497.71V476.29M732.97 497.69V474.81M740.46 497.68V482.9M744.21 497.68V486.95M819.15 497.57V485.66M822.9 497.57V481.12M830.39 497.56V472.04M837.89 497.54V475.9M845.38 497.53V486.81M849.13 497.53V486.8M924.07 497.42V472.93M927.82 497.42V463.61M935.31 497.41V392.78M942.81 497.39V383.5M950.3 497.38V438.47M954.05 497.38V460.97M1028.99 497.27V486.02M1032.74 497.27V474.76M1040.23 497.26V437.18M1047.73 497.24V420.95M1055.22 497.23V439.64M1058.97 497.23V448.24M1073.96 497.21V473.38M1088.95 497.19V486.46" stroke="#ffbcbc" stroke-width="1.4" fill="none"/>
<path d="M159.5 498.51V487.79M174.5 498.49V474.66M189.5 498.47V449.48M204.5 498.45V412.06M219.5 498.43V487.17M294.5 498.32V461.91M309.5 498.3V351.93M324.5 498.28V473.78M399.5 498.17V487.45M414.5 498.15V468.1M429.5 498.13V486.21M504.5 498.02V487.3M519.5 498V471.06M534.5 497.98V487.25M609.5 497.87V486.29M624.5 497.85V457.73M631.5 497.84V471.99M646.5 497.82V487.09M721.5 497.71V481.83M729.5 497.7V470.76M736.5 497.69V478.86M751.5 497.67V486.94M811.5 497.58V486.86M826.5 497.56V476.58M834.5 497.55V467.5M841.5 497.54V484.3M916.5 497.43V485.52M931.5 497.41V434.52M939.5 497.4V351.03M946.5 497.39V415.96M961.5 497.37V487.41M991.5 497.33V486.6M1021.5 497.28V486.56M1036.5 497.26V463.5M1043.5 497.25V410.86M1051.5 497.24V431.04M1066.5 497.22V462.13M1081.5 497.2V481.97M1096.5 497.18V486.45" stroke="#ff0000" stroke-width="1" fill="none" opacity=".85"/>
<path d="M144.67 498.54L152.16 487.8L159.65 487.79L167.15 483.28L174.64 474.66L182.14 463.4L189.63 449.48L197.13 432.26L204.62 412.06L212.11 464.68L219.61 487.17L227.1 487.69L234.6 498.41M249.59 498.39L257.08 487.65L264.57 498.36M280.56 498.34L287.56 487.61L294.55 461.91L302.05 416.88L309.54 351.93L317.03 435.4L320.53 463.86L324.53 473.78L332.02 486.35L339.52 498.26M391.98 498.18L399.47 487.45L403.47 487.44L406.97 484.92L414.46 468.1L429.45 486.21L436.94 487.39L444.44 498.11M489.4 498.04L496.9 487.31L504.39 487.3L519.38 471.06L530.37 487.26L534.37 487.25L541.86 497.97M594.32 497.89L601.82 487.16L609.31 486.29L624.3 457.73L639.29 486.24L646.78 487.09L654.28 497.81M706.74 497.73L714.23 487L718.23 486.99L729.22 470.76L744.21 486.95L751.7 486.94L759.2 497.66M804.16 497.59L811.66 486.86L819.15 485.66L834.14 467.5L841.63 484.3L845.13 486.81L849.13 486.8L856.62 497.52M909.08 497.44L916.58 485.52L924.07 472.93L928.07 462.99L931.57 434.52L939.06 351.03L946.55 415.96L954.05 460.97L961.04 486.64L968.04 497.36M984.03 497.34L991.52 486.6L999.01 497.31M1014 497.29L1021.5 486.56L1028.99 486.02L1036.49 463.5L1043.98 410.86L1051.47 431.04L1058.97 448.24L1066.46 462.13L1073.96 473.38L1081.45 481.97L1088.95 486.46L1096.44 486.45L1103.93 497.16" stroke="#ff0000" stroke-width=".95" fill="none" opacity=".5" stroke-linejoin="round"/>
<path d="M144.67 498.54L152.16 487.8L159.65 487.79L167.15 483.28L174.64 474.66L182.14 463.4L189.63 449.48L197.13 432.26L204.62 412.06L212.11 464.68L219.61 487.17L227.1 487.69L234.6 498.41M249.59 498.39L257.08 487.65L264.57 498.36M280.56 498.34L287.56 487.61L294.55 461.91L302.05 416.88L309.54 351.93L317.03 435.4L320.53 463.86L324.53 473.78L332.02 486.35L339.52 498.26M391.98 498.18L399.47 487.45L403.47 487.44L406.97 484.92L414.46 468.1L429.45 486.21L436.94 487.39L444.44 498.11M489.4 498.04L496.9 487.31L504.39 487.3L519.38 471.06L530.37 487.26L534.37 487.25L541.86 497.97M594.32 497.89L601.82 487.16L609.31 486.29L624.3 457.73L639.29 486.24L646.78 487.09L654.28 497.81M706.74 497.73L714.23 487L718.23 486.99L729.22 470.76L744.21 486.95L751.7 486.94L759.2 497.66M804.16 497.59L811.66 486.86L819.15 485.66L834.14 467.5L841.63 484.3L845.13 486.81L849.13 486.8L856.62 497.52M909.08 497.44L916.58 485.52L924.07 472.93L928.07 462.99L931.57 434.52L939.06 351.03L946.55 415.96L954.05 460.97L961.04 486.64L968.04 497.36M984.03 497.34L991.52 486.6L999.01 497.31M1014 497.29L1021.5 486.56L1028.99 486.02L1036.49 463.5L1043.98 410.86L1051.47 431.04L1058.97 448.24L1066.46 462.13L1073.96 473.38L1081.45 481.97L1088.95 486.46L1096.44 486.45L1103.93 497.16" stroke="#ff0000" stroke-width=".95" fill="none" opacity=".8" stroke-linejoin="round" stroke-dasharray="3 1"/>
<path d="M107.19 498.59V509.31M110.94 498.58V509.31M122.18 498.57V509.29M137.17 498.55V509.87M152.16 498.53V509.25M167.15 498.5V509.23M182.14 498.48V509.21M227.1 498.42V517.62M242.09 498.4V577.84M257.08 498.38V637.66M272.07 498.35V565.22M287.06 498.33V507.6M332.02 498.27V508.99M347.01 498.25V511.49M362 498.23V520.73M376.99 498.2V520.38M391.98 498.18V509.57M451.93 498.1V508.82M466.92 498.08V508.8M481.91 498.05V508.78M496.9 498.03V508.76M541.86 497.97V508.69M556.85 497.95V515.16M571.84 497.93V517.32M586.83 497.9V511.81M601.82 497.88V508.61M654.28 497.81V509.19M669.27 497.79V515.13M684.25 497.76V516.96M699.24 497.74V511.64M759.2 497.66V508.38M774.19 497.64V508.36M789.17 497.61V508.34M804.16 497.59V508.32M864.12 497.51V515.71M879.11 497.49V521.05M894.09 497.46V515.8M909.08 497.44V508.37M969.04 497.36V529.8M984.03 497.34V600.61M999.01 497.31V607.21M1014 497.29V543.63M1073.96 497.21V507.93M1088.95 497.19V507.91M1103.93 497.16V508.48M1118.92 497.14V507.87M1133.91 497.12V507.85M1145.15 497.11V507.83M103.5 498.59V509.32M114.5 498.58V509.3M129.5 498.56V509.28M144.5 498.54V509.86M159.5 498.51V509.24M174.5 498.49V509.22M234.5 498.41V544.75M249.5 498.39V608.28M264.5 498.36V601.64M279.5 498.34V530.78M309.5 498.3V517.37M339.5 498.26V509.18M354.5 498.24V516.57M369.5 498.21V521.78M384.5 498.19V516.4M444.5 498.11V508.83M459.5 498.09V508.81M474.5 498.06V508.79M489.5 498.04V508.77M549.5 497.96V511.86M564.5 497.94V517.13M579.5 497.91V515.26M594.5 497.89V509.28M646.5 497.82V508.54M661.5 497.8V511.7M676.5 497.78V517.17M691.5 497.75V514.97M706.5 497.73V508.46M751.5 497.67V508.39M766.5 497.65V508.37M781.5 497.62V508.35M796.5 497.6V508.33M856.5 497.52V508.9M871.5 497.5V519.67M886.5 497.48V519.98M901.5 497.45V510.69M916.5 497.43V508.16M939.5 497.4V516.47M961.5 497.37V506.64M976.5 497.35V564.21M991.5 497.33V636.61M1006.5 497.3V576.74M1021.5 497.28V516.48M1066.5 497.22V507.94M1081.5 497.2V507.92M1096.5 497.18V507.9M1111.5 497.15V508.47M1126.5 497.13V507.86M1137.5 497.12V507.84M1141.5 497.11V507.84" stroke="#fff" stroke-width="1.8" fill="none"/>
<path d="M107.19 498.59V509.31M110.94 498.58V509.31M122.18 498.57V509.29M137.17 498.55V509.87M152.16 498.53V509.25M167.15 498.5V509.23M182.14 498.48V509.21M227.1 498.42V517.62M242.09 498.4V577.84M257.08 498.38V637.66M272.07 498.35V565.22M287.06 498.33V507.6M332.02 498.27V508.99M347.01 498.25V511.49M362 498.23V520.73M376.99 498.2V520.38M391.98 498.18V509.57M451.93 498.1V508.82M466.92 498.08V508.8M481.91 498.05V508.78M496.9 498.03V508.76M541.86 497.97V508.69M556.85 497.95V515.16M571.84 497.93V517.32M586.83 497.9V511.81M601.82 497.88V508.61M654.28 497.81V509.19M669.27 497.79V515.13M684.25 497.76V516.96M699.24 497.74V511.64M759.2 497.66V508.38M774.19 497.64V508.36M789.17 497.61V508.34M804.16 497.59V508.32M864.12 497.51V515.71M879.11 497.49V521.05M894.09 497.46V515.8M909.08 497.44V508.37M969.04 497.36V529.8M984.03 497.34V600.61M999.01 497.31V607.21M1014 497.29V543.63M1073.96 497.21V507.93M1088.95 497.19V507.91M1103.93 497.16V508.48M1118.92 497.14V507.87M1133.91 497.12V507.85M1145.15 497.11V507.83" stroke="#b9b9ff" stroke-width="1.4" fill="none"/>
<path d="M103.5 498.59V509.32M114.5 498.58V509.3M129.5 498.56V509.28M144.5 498.54V509.86M159.5 498.51V509.24M174.5 498.49V509.22M234.5 498.41V544.75M249.5 498.39V608.28M264.5 498.36V601.64M279.5 498.34V530.78M309.5 498.3V517.37M339.5 498.26V509.18M354.5 498.24V516.57M369.5 498.21V521.78M384.5 498.19V516.4M444.5 498.11V508.83M459.5 498.09V508.81M474.5 498.06V508.79M489.5 498.04V508.77M549.5 497.96V511.86M564.5 497.94V517.13M579.5 497.91V515.26M594.5 497.89V509.28M646.5 497.82V508.54M661.5 497.8V511.7M676.5 497.78V517.17M691.5 497.75V514.97M706.5 497.73V508.46M751.5 497.67V508.39M766.5 497.65V508.37M781.5 497.62V508.35M796.5 497.6V508.33M856.5 497.52V508.9M871.5 497.5V519.67M886.5 497.48V519.98M901.5 497.45V510.69M916.5 497.43V508.16M939.5 497.4V516.47M961.5 497.37V506.64M976.5 497.35V564.21M991.5 497.33V636.61M1006.5 497.3V576.74M1021.5 497.28V516.48M1066.5 497.22V507.94M1081.5 497.2V507.92M1096.5 497.18V507.9M1111.5 497.15V508.47M1126.5 497.13V507.86M1137.5 497.12V507.84M1141.5 497.11V507.84" stroke="#0000ff" stroke-width="1" fill="none" opacity=".85"/>
<path d="M99.7 498.6L99.71 509.32L129.68 509.28L137.17 509.87L144.67 509.86L152.16 509.25L182.14 509.21L189.63 498.47M219.61 498.43L227.1 517.62L234.6 544.75L242.09 577.84L249.59 608.28L257.08 637.66L264.57 601.64L272.07 565.22L279.56 530.78L287.06 507.6L294.55 498.32M305.79 498.31L309.54 517.37L313.29 498.29M324.53 498.28L332.02 508.99L339.52 509.18L347.01 511.49L354.51 516.57L362 520.73L369.49 521.78L376.99 520.38L384.48 516.4L391.98 509.57L399.47 498.17M436.94 498.12L444.44 508.83L496.9 508.76L504.39 498.02M534.37 497.98L541.86 508.69L549.36 511.86L556.85 515.16L564.35 517.13L571.84 517.32L579.33 515.26L586.83 511.81L594.32 509.28L601.82 508.61L609.31 497.87M639.29 497.83L646.78 508.54L654.28 509.19L661.77 511.7L669.27 515.13L676.76 517.17L684.25 516.96L691.75 514.97L699.24 511.64L706.74 508.46L714.23 497.72M744.21 497.68L751.7 508.39L804.16 508.32L811.66 497.58M849.13 497.53L856.62 508.9L864.12 515.71L871.61 519.67L879.11 521.05L886.6 519.98L894.09 515.8L901.59 510.69L909.08 508.37L916.58 508.16L924.07 497.42M935.31 497.41L939.06 516.47L942.81 497.39M954.05 497.38L961.54 506.64L969.04 529.8L976.53 564.21L984.03 600.61L991.52 636.61L999.01 607.21L1006.51 576.74L1014 543.63L1021.5 516.48L1028.99 497.27M1058.97 497.23L1066.46 507.94L1096.44 507.9L1103.93 508.48L1111.43 508.47L1118.92 507.87L1148.89 507.82L1148.9 497.1" stroke="#0000ff" stroke-width=".95" fill="none" opacity=".5" stroke-linejoin="round"/>
<path d="M99.7 498.6L99.71 509.32L129.68 509.28L137.17 509.87L144.67 509.86L152.16 509.25L182.14 509.21L189.63 498.47M219.61 498.43L227.1 517.62L234.6 544.75L242.09 577.84L249.59 608.28L257.08 637.66L264.57 601.64L272.07 565.22L279.56 530.78L287.06 507.6L294.55 498.32M305.79 498.31L309.54 517.37L313.29 498.29M324.53 498.28L332.02 508.99L339.52 509.18L347.01 511.49L354.51 516.57L362 520.73L369.49 521.78L376.99 520.38L384.48 516.4L391.98 509.57L399.47 498.17M436.94 498.12L444.44 508.83L496.9 508.76L504.39 498.02M534.37 497.98L541.86 508.69L549.36 511.86L556.85 515.16L564.35 517.13L571.84 517.32L579.33 515.26L586.83 511.81L594.32 509.28L601.82 508.61L609.31 497.87M639.29 497.83L646.78 508.54L654.28 509.19L661.77 511.7L669.27 515.13L676.76 517.17L684.25 516.96L691.75 514.97L699.24 511.64L706.74 508.46L714.23 497.72M744.21 497.68L751.7 508.39L804.16 508.32L811.66 497.58M849.13 497.53L856.62 508.9L864.12 515.71L871.61 519.67L879.11 521.05L886.6 519.98L894.09 515.8L901.59 510.69L909.08 508.37L916.58 508.16L924.07 497.42M935.31 497.41L939.06 516.47L942.81 497.39M954.05 497.38L961.54 506.64L969.04 529.8L976.53 564.21L984.03 600.61L991.52 636.61L999.01 607.21L1006.51 576.74L1014 543.63L1021.5 516.48L1028.99 497.27M1058.97 497.23L1066.46 507.94L1096.44 507.9L1103.93 508.48L1111.43 508.47L1118.92 507.87L1148.89 507.82L1148.9 497.1" stroke="#0000ff" stroke-width=".95" fill="none" opacity=".8" stroke-linejoin="round" stroke-dasharray="3 1"/>
<polygon points="306.14,498.3 309.54,517.37 312.94,498.3" fill="#0000ff" opacity=".75"/>
<polygon points="935.66,497.4 939.06,516.47 942.46,497.4" fill="#0000ff" opacity=".75"/>
<polygon points="98.2,493.4 1149.4,491.9 1149.4,502.3 98.2,503.8" fill="#a9a9a9" opacity=".8"/>
<path d="M98.2 493L1149.4 491.5" stroke="#b2b2b2" stroke-width="1" stroke-dasharray="1.6 1.6" opacity=".86"/>
<path d="M98.2 504.2L1149.4 502.7" stroke="#b2b2b2" stroke-width="1" stroke-dasharray="1.6 1.6" opacity=".86"/>
<path d="M99.7 498.6L1148.9 497.1" stroke="#e25a5a" stroke-width="1" opacity=".55"/><path d="M0 498.7 H98.2" stroke="#2a9090" stroke-width="1" opacity=".75"/>
<path d="M0 498.7 H98.2" stroke="#000" stroke-width="1.2" stroke-dasharray="2.6 1.4 1 1.4"/>
<path d="M53.8 498.7 H65.7" stroke="#008c8c" stroke-width="1.5"/>
<circle cx="47.3" cy="498.8" r="1.8" fill="#7a0a0a"/>
<path d="M1149.9 497.1L1208.5 497" stroke="#2a9090" stroke-width="1" opacity=".6"/>
<path d="M1149.9 497.1L1208.5 497" stroke="#111" stroke-width="1.1" stroke-dasharray="2.6 1.4 1 1.4" opacity=".9"/>
<rect x="1147.7" y="494.6" width="2.4" height="5" fill="#c04030" opacity=".8"/></g>
<g id="p3"><path d="M115.09 1002.39V939.98M118.84 1002.38V939.98M145.07 1002.35V939.94M160.06 1002.32V939.92M175.05 1002.3V877.49M190.04 1002.28V877.47M201.28 1002.27V814.91M205.03 1002.26V814.91M208.77 1002.26V814.9M216.27 1002.24V814.89M220.01 1002.24V814.88M223.76 1002.23V814.88M235 1002.22V877.4M249.99 1002.2V939.79M264.98 1002.17V939.77M279.97 1002.15V939.75M294.96 1002.13V877.32M306.2 1002.12V752.35M309.95 1002.11V700.28M313.69 1002.11V700.27M321.19 1002.09V700.26M324.93 1002.09V700.25M328.68 1002.08V752.32M339.92 1002.07V877.25M354.91 1002.05V939.64M384.89 1002V939.6M399.88 1001.98V939.57M411.12 1001.97V939.56M414.87 1001.96V939.55M418.61 1001.96V939.55M426.11 1001.94V939.54M429.85 1001.94V939.53M433.6 1001.93V939.53M444.84 1001.92V939.51M459.83 1001.9V939.49M489.81 1001.85V939.45M504.8 1001.83V939.42M516.04 1001.82V939.41M519.79 1001.81V939.4M523.53 1001.81V939.4M531.03 1001.79V939.39M534.77 1001.79V939.38M538.52 1001.78V939.38M549.76 1001.77V939.36M564.75 1001.75V939.34M594.73 1001.7V939.3M609.72 1001.68V939.27M620.96 1001.67V876.85M624.71 1001.66V876.85M628.45 1001.66V876.84M635.95 1001.64V876.83M643.44 1001.63V876.82M647.19 1001.63V876.81M662.18 1001.61V939.2M677.17 1001.59V939.18M707.14 1001.54V939.14M722.13 1001.52V939.11M725.88 1001.52V939.11M733.37 1001.51V939.1M740.87 1001.49V939.09M748.36 1001.48V939.08M752.11 1001.48V939.07M767.1 1001.46V939.05M782.09 1001.44V939.03M797.07 1001.41V939.01M812.06 1001.39V938.99M827.05 1001.37V938.96M830.8 1001.37V938.96M838.29 1001.36V938.95M845.79 1001.34V938.94M853.28 1001.33V938.93M857.03 1001.33V938.92M872.02 1001.31V938.9M901.99 1001.26V938.86M916.98 1001.24V938.84M931.97 1001.22V751.46M935.72 1001.22V751.45M943.21 1001.21V699.37M950.71 1001.19V699.36M958.2 1001.18V751.42M961.95 1001.18V751.42M976.94 1001.16V876.34M991.93 1001.14V938.73M1006.91 1001.11V938.71M1021.9 1001.09V938.69M1036.89 1001.07V876.26M1040.64 1001.07V813.71M1048.13 1001.06V813.7M1055.63 1001.04V813.69M1063.12 1001.03V813.68M1066.87 1001.03V813.67M1081.86 1001.01V876.19M1096.85 1000.99V938.58M1111.83 1000.96V938.56M1126.82 1000.94V938.54M1153.05 1000.91V938.5M1156.8 1000.9V938.49" stroke="#a6e6a6" stroke-width="1.4" fill="none"/>
<path d="M107.5 1002.4V939.99M111.5 1002.39V939.99M137.5 1002.36V939.95M152.5 1002.34V939.93M167.5 1002.31V939.91M182.5 1002.29V877.48M197.5 1002.27V814.92M212.5 1002.25V814.89M227.5 1002.23V877.41M242.5 1002.21V939.8M257.5 1002.19V939.78M272.5 1002.16V939.76M287.5 1002.14V877.33M302.5 1002.12V752.36M317.5 1002.1V700.26M332.5 1002.08V752.32M347.5 1002.06V939.65M362.5 1002.04V939.63M392.5 1001.99V939.59M407.5 1001.97V939.56M422.5 1001.95V939.54M437.5 1001.93V939.52M452.5 1001.91V939.5M467.5 1001.89V939.48M482.5 1001.86V939.46M497.5 1001.84V939.44M512.5 1001.82V939.41M527.5 1001.8V939.39M542.5 1001.78V939.37M557.5 1001.76V939.35M587.5 1001.71V939.31M602.5 1001.69V939.29M617.5 1001.67V876.86M632.5 1001.65V876.84M639.5 1001.64V876.82M654.5 1001.62V939.21M669.5 1001.6V939.19M699.5 1001.55V939.15M714.5 1001.53V939.12M729.5 1001.51V939.1M737.5 1001.5V939.09M744.5 1001.49V939.08M759.5 1001.47V939.06M774.5 1001.45V939.04M804.5 1001.4V939M819.5 1001.38V938.97M834.5 1001.36V938.95M842.5 1001.35V938.94M849.5 1001.34V938.93M864.5 1001.32V938.91M879.5 1001.3V938.89M909.5 1001.25V938.85M924.5 1001.23V876.42M939.5 1001.21V699.38M946.5 1001.2V699.36M954.5 1001.19V699.35M969.5 1001.17V876.35M984.5 1001.15V938.74M999.5 1001.12V938.72M1014.5 1001.1V938.7M1029.5 1001.08V876.27M1044.5 1001.06V813.71M1051.5 1001.05V813.69M1059.5 1001.04V813.68M1074.5 1001.02V876.2M1089.5 1001V876.18M1104.5 1000.98V938.57M1119.5 1000.95V938.55M1145.5 1000.92V938.51M1149.5 1000.91V938.5" stroke="#00c400" stroke-width="1" fill="none" opacity=".9"/>
<path d="M107.6 1002.4V939.99M119.09 1002.38V939.98M107.6 939.99L119.09 939.98M137.58 1002.36V939.95M175.05 1002.3V939.9M137.58 939.95L175.05 939.9M175.05 1002.3V877.49M190.24 1002.28V877.47M175.05 877.49L190.24 877.47M190.24 1002.28V814.93M224.51 1002.23V814.88M190.24 814.93L224.51 814.88M224.51 1002.23V877.42M235.5 1002.22V877.4M224.51 877.42L235.5 877.4M235.5 1002.22V939.81M287.46 1002.14V939.74M235.5 939.81L287.46 939.74M287.46 1002.14V877.33M296.46 1002.13V877.32M287.46 877.33L296.46 877.32M296.46 1002.13V814.77M302.45 1002.12V814.77M296.46 814.77L302.45 814.77M302.45 1002.12V752.36M306.25 1002.12V752.35M302.45 752.36L306.25 752.35M306.25 1002.12V700.28M324.93 1002.09V700.25M306.25 700.28L324.93 700.25M324.93 1002.09V752.33M332.43 1002.08V752.32M324.93 752.33L332.43 752.32M332.43 1002.08V814.72M338.02 1002.07V814.72M332.43 814.72L338.02 814.72M338.02 1002.07V877.26M340.42 1002.07V877.25M338.02 877.26L340.42 877.25M340.42 1002.07V939.66M362.41 1002.04V939.63M340.42 939.66L362.41 939.63M384.89 1002V939.6M467.33 1001.89V939.48M384.89 939.6L467.33 939.48M482.31 1001.86V939.46M564.75 1001.75V939.34M482.31 939.46L564.75 939.34M587.23 1001.71V939.31M617.21 1001.67V939.26M587.23 939.31L617.21 939.26M617.21 1001.67V876.86M647.19 1001.63V876.81M617.21 876.86L647.19 876.81M647.19 1001.63V939.22M677.17 1001.59V939.18M647.19 939.22L677.17 939.18M699.65 1001.55V939.15M782.09 1001.44V939.03M699.65 939.15L782.09 939.03M797.07 1001.41V939.01M879.51 1001.3V938.89M797.07 939.01L879.51 938.89M901.99 1001.26V938.86M923.98 1001.23V938.83M901.99 938.86L923.98 938.83M923.98 1001.23V876.42M926.38 1001.23V876.41M923.98 876.42L926.38 876.41M926.38 1001.23V813.87M931.97 1001.22V813.87M926.38 813.87L931.97 813.87M931.97 1001.22V751.46M939.47 1001.21V751.45M931.97 751.46L939.47 751.45M939.47 1001.21V699.38M958.15 1001.18V699.35M939.47 699.38L958.15 699.35M958.15 1001.18V751.42M961.95 1001.18V751.42M958.15 751.42L961.95 751.42M961.95 1001.18V813.82M967.94 1001.17V813.81M961.95 813.82L967.94 813.81M967.94 1001.17V876.36M976.94 1001.16V876.34M967.94 876.36L976.94 876.34M976.94 1001.16V938.75M1028.9 1001.08V938.68M976.94 938.75L1028.9 938.68M1028.9 1001.08V876.27M1039.89 1001.07V876.25M1028.9 876.27L1039.89 876.25M1039.89 1001.07V813.71M1074.16 1001.02V813.66M1039.89 813.71L1074.16 813.66M1074.16 1001.02V876.2M1089.35 1001V876.18M1074.16 876.2L1089.35 876.18M1089.35 1001V938.59M1126.82 1000.94V938.54M1089.35 938.59L1126.82 938.54M1145.31 1000.92V938.51M1156.8 1000.9V938.49M1145.31 938.51L1156.8 938.49" stroke="#00c400" stroke-width="1.3" fill="none" opacity=".62"/>
<path d="M115.09 1002.39V1064.8M118.84 1002.38V1064.79M130.08 1002.37V1064.78M145.07 1002.35V1064.75M160.06 1002.32V1064.73M175.05 1002.3V1064.71M190.04 1002.28V1064.69M201.28 1002.27V1064.67M205.03 1002.26V1064.67M208.77 1002.26V1064.66M216.27 1002.24V1064.65M220.01 1002.24V1064.65M223.76 1002.23V1064.64M235 1002.22V1127.03M249.99 1002.2V1251.96M264.98 1002.17V1283.21M279.97 1002.15V1251.92M294.96 1002.13V1126.95M306.2 1002.12V1064.52M309.95 1002.11V1064.52M313.69 1002.11V1064.51M321.19 1002.09V1064.5M324.93 1002.09V1064.5M328.68 1002.08V1064.49M339.92 1002.07V1064.48M354.91 1002.05V1064.45M369.9 1002.02V1064.43M384.89 1002V1064.41M399.88 1001.98V1064.39M411.12 1001.97V1064.37M414.87 1001.96V1064.37M418.61 1001.96V1064.36M433.6 1001.93V1064.34M444.84 1001.92V1064.33M459.83 1001.9V1064.3M474.82 1001.88V1064.28M489.81 1001.85V1064.26M504.8 1001.83V1064.24M516.04 1001.82V1064.22M519.79 1001.81V1064.22M523.53 1001.81V1064.21M531.03 1001.79V1064.2M534.77 1001.79V1064.2M538.52 1001.78V1064.19M549.76 1001.77V1064.18M564.75 1001.75V1064.15M579.74 1001.73V1064.13M594.73 1001.7V1064.11M609.72 1001.68V1064.09M620.96 1001.67V1064.07M624.71 1001.66V1064.07M628.45 1001.66V1064.06M635.95 1001.64V1064.05M643.44 1001.63V1064.04M647.19 1001.63V1064.04M662.18 1001.61V1064.01M677.17 1001.59V1063.99M692.15 1001.56V1063.97M707.14 1001.54V1063.95M722.13 1001.52V1063.93M725.88 1001.52V1063.92M733.37 1001.51V1063.91M740.87 1001.49V1063.9M748.36 1001.48V1063.89M752.11 1001.48V1063.89M767.1 1001.46V1063.86M782.09 1001.44V1063.84M797.07 1001.41V1063.82M812.06 1001.39V1063.8M827.05 1001.37V1063.78M830.8 1001.37V1063.77M845.79 1001.34V1063.75M853.28 1001.33V1063.74M857.03 1001.33V1063.74M872.02 1001.31V1063.71M887.01 1001.29V1063.69M901.99 1001.26V1063.67M916.98 1001.24V1063.65M931.97 1001.22V1063.63M935.72 1001.22V1063.62M943.21 1001.21V1063.61M950.71 1001.19V1063.6M958.2 1001.18V1063.59M961.95 1001.18V1063.59M976.94 1001.16V1188.51M991.93 1001.14V1282.17M1006.91 1001.11V1282.15M1021.9 1001.09V1250.86M1036.89 1001.07V1125.89M1040.64 1001.07V1063.47M1048.13 1001.06V1063.46M1055.63 1001.04V1063.45M1063.12 1001.03V1063.44M1066.87 1001.03V1063.44M1081.86 1001.01V1063.41M1096.85 1000.99V1063.39M1111.83 1000.96V1063.37M1126.82 1000.94V1063.35M1141.81 1000.92V1063.33M1153.05 1000.91V1063.31M1156.8 1000.9V1063.31" stroke="#f6cfa4" stroke-width="1.4" fill="none"/>
<path d="M107.5 1002.4V1064.81M111.5 1002.39V1064.8M122.5 1002.38V1064.79M137.5 1002.36V1064.76M152.5 1002.34V1064.74M167.5 1002.31V1064.72M182.5 1002.29V1064.7M197.5 1002.27V1064.68M212.5 1002.25V1064.66M227.5 1002.23V1127.04M242.5 1002.21V1251.97M257.5 1002.19V1283.22M272.5 1002.16V1283.2M287.5 1002.14V1189.5M302.5 1002.12V1064.53M317.5 1002.1V1064.51M332.5 1002.08V1064.49M347.5 1002.06V1064.46M362.5 1002.04V1064.44M377.5 1002.01V1064.42M392.5 1001.99V1064.4M407.5 1001.97V1064.38M437.5 1001.93V1064.34M452.5 1001.91V1064.31M467.5 1001.89V1064.29M482.5 1001.86V1064.27M497.5 1001.84V1064.25M512.5 1001.82V1064.23M542.5 1001.78V1064.19M557.5 1001.76V1064.16M572.5 1001.74V1064.14M587.5 1001.71V1064.12M602.5 1001.69V1064.1M617.5 1001.67V1064.08M639.5 1001.64V1064.05M654.5 1001.62V1064.03M669.5 1001.6V1064M684.5 1001.57V1063.98M699.5 1001.55V1063.96M714.5 1001.53V1063.94M729.5 1001.51V1063.92M744.5 1001.49V1063.9M759.5 1001.47V1063.88M774.5 1001.45V1063.85M789.5 1001.42V1063.83M804.5 1001.4V1063.81M819.5 1001.38V1063.79M849.5 1001.34V1063.75M864.5 1001.32V1063.73M879.5 1001.3V1063.7M894.5 1001.27V1063.68M909.5 1001.25V1063.66M924.5 1001.23V1063.64M939.5 1001.21V1063.62M946.5 1001.2V1063.61M954.5 1001.19V1063.6M969.5 1001.17V1125.98M984.5 1001.15V1250.91M999.5 1001.12V1282.16M1014.5 1001.1V1250.87M1029.5 1001.08V1125.9M1044.5 1001.06V1063.47M1051.5 1001.05V1063.46M1059.5 1001.04V1063.45M1074.5 1001.02V1063.43M1089.5 1001V1063.4M1104.5 1000.98V1063.38M1119.5 1000.95V1063.36M1134.5 1000.93V1063.34M1145.5 1000.92V1063.32M1149.5 1000.91V1063.32" stroke="#e8900a" stroke-width="1" fill="none" opacity=".9"/>
<path d="M107.6 1002.4V1064.81M227.51 1002.23V1064.64M107.6 1064.81L227.51 1064.64M227.51 1002.23V1127.04M235.1 1002.22V1127.03M227.51 1127.04L235.1 1127.03M235.1 1002.22V1189.57M242.5 1002.21V1189.56M235.1 1189.57L242.5 1189.56M242.5 1002.21V1251.97M250.09 1002.2V1251.96M242.5 1251.97L250.09 1251.96M250.09 1002.2V1283.23M279.87 1002.15V1283.19M250.09 1283.23L279.87 1283.19M279.87 1002.15V1251.92M285.66 1002.15V1251.91M279.87 1251.92L285.66 1251.91M285.66 1002.15V1189.5M287.66 1002.14V1189.5M285.66 1189.5L287.66 1189.5M287.66 1002.14V1126.96M295.46 1002.13V1126.95M287.66 1126.96L295.46 1126.95M295.46 1002.13V1064.54M418.61 1001.96V1064.36M295.46 1064.54L418.61 1064.36M433.6 1001.93V1064.34M523.53 1001.81V1064.21M433.6 1064.34L523.53 1064.21M530.78 1001.79V1064.2M628.45 1001.66V1064.06M530.78 1064.2L628.45 1064.06M635.95 1001.64V1064.05M733.62 1001.5V1063.91M635.95 1064.05L733.62 1063.91M740.87 1001.49V1063.9M830.8 1001.37V1063.77M740.87 1063.9L830.8 1063.77M845.79 1001.34V1063.75M968.94 1001.17V1063.58M845.79 1063.75L968.94 1063.58M968.94 1001.17V1125.98M976.74 1001.16V1125.97M968.94 1125.98L976.74 1125.97M976.74 1001.16V1188.51M978.74 1001.15V1188.51M976.74 1188.51L978.74 1188.51M978.74 1001.15V1250.92M984.53 1001.15V1250.91M978.74 1250.92L984.53 1250.91M984.53 1001.15V1282.18M1014.31 1001.1V1282.14M984.53 1282.18L1014.31 1282.14M1014.31 1001.1V1250.87M1021.9 1001.09V1250.86M1014.31 1250.87L1021.9 1250.86M1021.9 1001.09V1188.45M1029.3 1001.08V1188.44M1021.9 1188.45L1029.3 1188.44M1029.3 1001.08V1125.9M1036.89 1001.07V1125.89M1029.3 1125.9L1036.89 1125.89M1036.89 1001.07V1063.48M1156.8 1000.9V1063.31M1036.89 1063.48L1156.8 1063.31" stroke="#e8900a" stroke-width="1.3" fill="none" opacity=".62"/>
<path d="M934.37 1001.22V751.46" stroke="#00c400" stroke-width="1.4" opacity=".9"/>
<path d="M934.37 1001.22V1063.63" stroke="#e8900a" stroke-width="1.4" opacity=".9"/>
<path d="M936.37 1001.22V751.45" stroke="#00c400" stroke-width="1.4" opacity=".9"/>
<path d="M936.37 1001.22V1063.62" stroke="#e8900a" stroke-width="1.4" opacity=".9"/>
<path d="M938.37 1001.21V751.45" stroke="#00c400" stroke-width="1.4" opacity=".9"/>
<path d="M938.37 1001.21V1063.62" stroke="#e8900a" stroke-width="1.4" opacity=".9"/>
<path d="M160.06 1002.32V980.86M175.05 1002.3V971.83M190.04 1002.28V932.06M201.28 1002.27V886.99M205.03 1002.26V869.76M208.77 1002.26V849.55M216.27 1002.24V882M220.01 1002.24V934.66M223.76 1002.23V957.18M235 1002.22V980.75M264.98 1002.17V980.71M294.96 1002.13V982.2M306.2 1002.12V884.19M309.95 1002.11V839.14M313.69 1002.11V774.14M321.19 1002.09V792.68M324.93 1002.09V876.21M328.68 1002.08V934.43M339.92 1002.07V978.22M411.12 1001.97V980.5M414.87 1001.96V975.46M418.61 1001.96V958.63M426.11 1001.94V950.87M429.85 1001.94V959.94M433.6 1001.93V969.01M444.84 1001.92V980.45M504.8 1001.83V980.37M516.04 1001.82V972.24M519.79 1001.81V964.11M523.53 1001.81V955.99M531.03 1001.79V958.93M534.77 1001.79V970M538.52 1001.78V980.32M609.72 1001.68V980.22M620.96 1001.67V964.2M624.71 1001.66V949.92M628.45 1001.66V935.64M635.95 1001.64V935.63M643.44 1001.63V964.17M647.19 1001.63V978.44M722.13 1001.52V980.06M725.88 1001.52V980.05M733.37 1001.51V958.64M740.87 1001.49V955.68M748.36 1001.48V971.9M752.11 1001.48V980.01M827.05 1001.37V977.52M830.8 1001.37V968.44M838.29 1001.36V950.28M845.79 1001.34V958.02M853.28 1001.33V979.87M857.03 1001.33V979.86M931.97 1001.22V952.2M935.72 1001.22V933.56M943.21 1001.21V791.79M950.71 1001.19V773.23M958.2 1001.18V883.26M961.95 1001.18V928.3M1036.89 1001.07V978.55M1040.64 1001.07V956.02M1048.13 1001.06V880.81M1055.63 1001.04V848.34M1063.12 1001.03V885.76M1066.87 1001.03V902.98M1081.86 1001.01V953.31M1096.85 1000.99V979.52M167.5 1002.31V980.85M182.5 1002.29V954.59M197.5 1002.27V904.22M212.5 1002.25V829.34M227.5 1002.23V979.7M302.5 1002.12V929.25M317.5 1002.1V709.14M332.5 1002.08V953.05M407.5 1001.97V980.51M422.5 1001.95V941.79M437.5 1001.93V978.08M512.5 1001.82V980.36M527.5 1001.8V947.87M542.5 1001.78V980.31M617.5 1001.67V978.48M632.5 1001.65V921.36M639.5 1001.64V949.9M654.5 1001.62V980.15M729.5 1001.51V969.72M737.5 1001.5V947.57M744.5 1001.49V963.79M759.5 1001.47V980M819.5 1001.38V979.92M834.5 1001.36V959.36M842.5 1001.35V941.2M849.5 1001.34V974.84M924.5 1001.23V977.38M939.5 1001.21V875.34M946.5 1001.2V708.24M954.5 1001.19V838.21M969.5 1001.17V981.24M999.5 1001.12V979.66M1029.5 1001.08V979.62M1044.5 1001.06V933.49M1051.5 1001.05V828.14M1059.5 1001.04V868.54M1074.5 1001.02V930.79M1089.5 1001V970.52M1104.5 1000.98V979.51" stroke="#fff" stroke-width="1.8" fill="none"/>
<path d="M160.06 1002.32V980.86M175.05 1002.3V971.83M190.04 1002.28V932.06M201.28 1002.27V886.99M205.03 1002.26V869.76M208.77 1002.26V849.55M216.27 1002.24V882M220.01 1002.24V934.66M223.76 1002.23V957.18M235 1002.22V980.75M264.98 1002.17V980.71M294.96 1002.13V982.2M306.2 1002.12V884.19M309.95 1002.11V839.14M313.69 1002.11V774.14M321.19 1002.09V792.68M324.93 1002.09V876.21M328.68 1002.08V934.43M339.92 1002.07V978.22M411.12 1001.97V980.5M414.87 1001.96V975.46M418.61 1001.96V958.63M426.11 1001.94V950.87M429.85 1001.94V959.94M433.6 1001.93V969.01M444.84 1001.92V980.45M504.8 1001.83V980.37M516.04 1001.82V972.24M519.79 1001.81V964.11M523.53 1001.81V955.99M531.03 1001.79V958.93M534.77 1001.79V970M538.52 1001.78V980.32M609.72 1001.68V980.22M620.96 1001.67V964.2M624.71 1001.66V949.92M628.45 1001.66V935.64M635.95 1001.64V935.63M643.44 1001.63V964.17M647.19 1001.63V978.44M722.13 1001.52V980.06M725.88 1001.52V980.05M733.37 1001.51V958.64M740.87 1001.49V955.68M748.36 1001.48V971.9M752.11 1001.48V980.01M827.05 1001.37V977.52M830.8 1001.37V968.44M838.29 1001.36V950.28M845.79 1001.34V958.02M853.28 1001.33V979.87M857.03 1001.33V979.86M931.97 1001.22V952.2M935.72 1001.22V933.56M943.21 1001.21V791.79M950.71 1001.19V773.23M958.2 1001.18V883.26M961.95 1001.18V928.3M1036.89 1001.07V978.55M1040.64 1001.07V956.02M1048.13 1001.06V880.81M1055.63 1001.04V848.34M1063.12 1001.03V885.76M1066.87 1001.03V902.98M1081.86 1001.01V953.31M1096.85 1000.99V979.52" stroke="#ffbcbc" stroke-width="1.4" fill="none"/>
<path d="M167.5 1002.31V980.85M182.5 1002.29V954.59M197.5 1002.27V904.22M212.5 1002.25V829.34M227.5 1002.23V979.7M302.5 1002.12V929.25M317.5 1002.1V709.14M332.5 1002.08V953.05M407.5 1001.97V980.51M422.5 1001.95V941.79M437.5 1001.93V978.08M512.5 1001.82V980.36M527.5 1001.8V947.87M542.5 1001.78V980.31M617.5 1001.67V978.48M632.5 1001.65V921.36M639.5 1001.64V949.9M654.5 1001.62V980.15M729.5 1001.51V969.72M737.5 1001.5V947.57M744.5 1001.49V963.79M759.5 1001.47V980M819.5 1001.38V979.92M834.5 1001.36V959.36M842.5 1001.35V941.2M849.5 1001.34V974.84M924.5 1001.23V977.38M939.5 1001.21V875.34M946.5 1001.2V708.24M954.5 1001.19V838.21M969.5 1001.17V981.24M999.5 1001.12V979.66M1029.5 1001.08V979.62M1044.5 1001.06V933.49M1051.5 1001.05V828.14M1059.5 1001.04V868.54M1074.5 1001.02V930.79M1089.5 1001V970.52M1104.5 1000.98V979.51" stroke="#ff0000" stroke-width="1" fill="none" opacity=".85"/>
<path d="M152.57 1002.34L160.06 980.86L167.55 980.85L175.05 971.83L182.54 954.59L190.04 932.06L197.53 904.22L205.03 869.76L212.52 829.34L220.01 934.66L227.51 979.7L235 980.75L242.5 1002.21M257.49 1002.19L264.98 980.71L272.47 1002.16M288.46 1002.14L295.46 980.67L302.45 929.25L309.95 839.14L317.44 709.14L324.93 876.21L328.43 933.18L332.43 953.05L339.92 978.22L347.42 1002.06M399.88 1001.98L407.37 980.51L411.37 980.5L414.87 975.46L422.36 941.79L437.35 978.08L444.84 980.45L452.34 1001.91M497.3 1001.84L504.8 980.37L512.29 980.36L527.28 947.87L538.27 980.32L542.27 980.31L549.76 1001.77M602.22 1001.69L609.72 980.22L617.21 978.48L632.2 921.36L647.19 978.44L654.68 980.15L662.18 1001.61M714.64 1001.53L722.13 980.06L726.13 980.05L737.12 947.57L752.11 980.01L759.6 980L767.1 1001.46M812.06 1001.39L819.56 979.92L827.05 977.52L842.04 941.2L849.53 974.84L853.03 979.87L857.03 979.86L864.52 1001.32M916.98 1001.24L924.48 977.38L931.97 952.2L935.97 932.32L939.47 875.34L946.96 708.24L954.45 838.21L961.95 928.3L968.94 979.7L975.94 1001.16M991.93 1001.14L999.42 979.66L1006.91 1001.11M1021.9 1001.09L1029.4 979.62L1036.89 978.55L1044.39 933.49L1051.88 828.14L1059.37 868.54L1066.87 902.98L1074.36 930.79L1081.86 953.31L1089.35 970.52L1096.85 979.52L1104.34 979.51L1111.83 1000.96" stroke="#ff0000" stroke-width=".95" fill="none" opacity=".5" stroke-linejoin="round"/>
<path d="M152.57 1002.34L160.06 980.86L167.55 980.85L175.05 971.83L182.54 954.59L190.04 932.06L197.53 904.22L205.03 869.76L212.52 829.34L220.01 934.66L227.51 979.7L235 980.75L242.5 1002.21M257.49 1002.19L264.98 980.71L272.47 1002.16M288.46 1002.14L295.46 980.67L302.45 929.25L309.95 839.14L317.44 709.14L324.93 876.21L328.43 933.18L332.43 953.05L339.92 978.22L347.42 1002.06M399.88 1001.98L407.37 980.51L411.37 980.5L414.87 975.46L422.36 941.79L437.35 978.08L444.84 980.45L452.34 1001.91M497.3 1001.84L504.8 980.37L512.29 980.36L527.28 947.87L538.27 980.32L542.27 980.31L549.76 1001.77M602.22 1001.69L609.72 980.22L617.21 978.48L632.2 921.36L647.19 978.44L654.68 980.15L662.18 1001.61M714.64 1001.53L722.13 980.06L726.13 980.05L737.12 947.57L752.11 980.01L759.6 980L767.1 1001.46M812.06 1001.39L819.56 979.92L827.05 977.52L842.04 941.2L849.53 974.84L853.03 979.87L857.03 979.86L864.52 1001.32M916.98 1001.24L924.48 977.38L931.97 952.2L935.97 932.32L939.47 875.34L946.96 708.24L954.45 838.21L961.95 928.3L968.94 979.7L975.94 1001.16M991.93 1001.14L999.42 979.66L1006.91 1001.11M1021.9 1001.09L1029.4 979.62L1036.89 978.55L1044.39 933.49L1051.88 828.14L1059.37 868.54L1066.87 902.98L1074.36 930.79L1081.86 953.31L1089.35 970.52L1096.85 979.52L1104.34 979.51L1111.83 1000.96" stroke="#ff0000" stroke-width=".95" fill="none" opacity=".8" stroke-linejoin="round" stroke-dasharray="3 1"/>
<path d="M115.09 1002.39V1023.85M118.84 1002.38V1023.85M130.08 1002.37V1023.83M145.07 1002.35V1025M160.06 1002.32V1023.79M175.05 1002.3V1023.77M190.04 1002.28V1023.75M235 1002.22V1040.64M249.99 1002.2V1161.2M264.98 1002.17V1280.95M279.97 1002.15V1135.98M294.96 1002.13V1020.68M339.92 1002.07V1023.53M354.91 1002.05V1028.55M369.9 1002.02V1047.08M384.89 1002V1046.39M399.88 1001.98V1024.77M459.83 1001.9V1023.36M474.82 1001.88V1023.34M489.81 1001.85V1023.32M504.8 1001.83V1023.3M549.76 1001.77V1023.23M564.75 1001.75V1036.2M579.74 1001.73V1040.55M594.73 1001.7V1029.53M609.72 1001.68V1023.15M662.18 1001.61V1024.4M677.17 1001.59V1036.3M692.15 1001.56V1039.99M707.14 1001.54V1029.37M767.1 1001.46V1022.92M782.09 1001.44V1022.9M797.07 1001.41V1022.88M812.06 1001.39V1022.86M872.02 1001.31V1037.74M887.01 1001.29V1048.46M901.99 1001.26V1037.97M916.98 1001.24V1023.11M976.94 1001.16V1066.08M991.93 1001.14V1207.84M1006.91 1001.11V1221.06M1021.9 1001.09V1093.84M1081.86 1001.01V1022.47M1096.85 1000.99V1022.45M1111.83 1000.96V1023.62M1126.82 1000.94V1022.41M1141.81 1000.92V1022.39M1153.05 1000.91V1022.37M111.5 1002.39V1023.86M122.5 1002.38V1023.84M137.5 1002.36V1023.82M152.5 1002.34V1024.99M167.5 1002.31V1023.78M182.5 1002.29V1023.76M242.5 1002.21V1094.96M257.5 1002.19V1222.14M272.5 1002.16V1208.86M287.5 1002.14V1067.07M317.5 1002.1V1040.26M347.5 1002.06V1023.92M362.5 1002.04V1038.74M377.5 1002.01V1049.18M392.5 1001.99V1038.43M452.5 1001.91V1023.37M467.5 1001.89V1023.35M482.5 1001.86V1023.33M497.5 1001.84V1023.31M557.5 1001.76V1029.58M572.5 1001.74V1040.16M587.5 1001.71V1036.43M602.5 1001.69V1024.48M654.5 1001.62V1023.08M669.5 1001.6V1029.42M684.5 1001.57V1040.4M699.5 1001.55V1036M714.5 1001.53V1023M759.5 1001.47V1022.93M774.5 1001.45V1022.91M789.5 1001.42V1022.89M804.5 1001.4V1022.87M864.5 1001.32V1024.11M879.5 1001.3V1045.68M894.5 1001.27V1046.33M909.5 1001.25V1027.75M924.5 1001.23V1022.7M946.5 1001.2V1039.36M969.5 1001.17V1019.72M984.5 1001.15V1134.97M999.5 1001.12V1279.9M1014.5 1001.1V1160.1M1029.5 1001.08V1039.51M1074.5 1001.02V1022.48M1089.5 1001V1022.46M1104.5 1000.98V1022.44M1119.5 1000.95V1023.61M1134.5 1000.93V1022.4M1145.5 1000.92V1022.38M1149.5 1000.91V1022.38" stroke="#fff" stroke-width="1.8" fill="none"/>
<path d="M115.09 1002.39V1023.85M118.84 1002.38V1023.85M130.08 1002.37V1023.83M145.07 1002.35V1025M160.06 1002.32V1023.79M175.05 1002.3V1023.77M190.04 1002.28V1023.75M235 1002.22V1040.64M249.99 1002.2V1161.2M264.98 1002.17V1280.95M279.97 1002.15V1135.98M294.96 1002.13V1020.68M339.92 1002.07V1023.53M354.91 1002.05V1028.55M369.9 1002.02V1047.08M384.89 1002V1046.39M399.88 1001.98V1024.77M459.83 1001.9V1023.36M474.82 1001.88V1023.34M489.81 1001.85V1023.32M504.8 1001.83V1023.3M549.76 1001.77V1023.23M564.75 1001.75V1036.2M579.74 1001.73V1040.55M594.73 1001.7V1029.53M609.72 1001.68V1023.15M662.18 1001.61V1024.4M677.17 1001.59V1036.3M692.15 1001.56V1039.99M707.14 1001.54V1029.37M767.1 1001.46V1022.92M782.09 1001.44V1022.9M797.07 1001.41V1022.88M812.06 1001.39V1022.86M872.02 1001.31V1037.74M887.01 1001.29V1048.46M901.99 1001.26V1037.97M916.98 1001.24V1023.11M976.94 1001.16V1066.08M991.93 1001.14V1207.84M1006.91 1001.11V1221.06M1021.9 1001.09V1093.84M1081.86 1001.01V1022.47M1096.85 1000.99V1022.45M1111.83 1000.96V1023.62M1126.82 1000.94V1022.41M1141.81 1000.92V1022.39M1153.05 1000.91V1022.37" stroke="#b9b9ff" stroke-width="1.4" fill="none"/>
<path d="M111.5 1002.39V1023.86M122.5 1002.38V1023.84M137.5 1002.36V1023.82M152.5 1002.34V1024.99M167.5 1002.31V1023.78M182.5 1002.29V1023.76M242.5 1002.21V1094.96M257.5 1002.19V1222.14M272.5 1002.16V1208.86M287.5 1002.14V1067.07M317.5 1002.1V1040.26M347.5 1002.06V1023.92M362.5 1002.04V1038.74M377.5 1002.01V1049.18M392.5 1001.99V1038.43M452.5 1001.91V1023.37M467.5 1001.89V1023.35M482.5 1001.86V1023.33M497.5 1001.84V1023.31M557.5 1001.76V1029.58M572.5 1001.74V1040.16M587.5 1001.71V1036.43M602.5 1001.69V1024.48M654.5 1001.62V1023.08M669.5 1001.6V1029.42M684.5 1001.57V1040.4M699.5 1001.55V1036M714.5 1001.53V1023M759.5 1001.47V1022.93M774.5 1001.45V1022.91M789.5 1001.42V1022.89M804.5 1001.4V1022.87M864.5 1001.32V1024.11M879.5 1001.3V1045.68M894.5 1001.27V1046.33M909.5 1001.25V1027.75M924.5 1001.23V1022.7M946.5 1001.2V1039.36M969.5 1001.17V1019.72M984.5 1001.15V1134.97M999.5 1001.12V1279.9M1014.5 1001.1V1160.1M1029.5 1001.08V1039.51M1074.5 1001.02V1022.48M1089.5 1001V1022.46M1104.5 1000.98V1022.44M1119.5 1000.95V1023.61M1134.5 1000.93V1022.4M1145.5 1000.92V1022.38M1149.5 1000.91V1022.38" stroke="#0000ff" stroke-width="1" fill="none" opacity=".85"/>
<path d="M107.6 1002.4L107.61 1023.86L137.58 1023.82L145.07 1025L152.57 1024.99L160.06 1023.79L190.04 1023.75L197.53 1002.27M227.51 1002.23L235 1040.64L242.5 1094.96L249.99 1161.2L257.49 1222.14L264.98 1280.95L272.47 1208.86L279.97 1135.98L287.46 1067.07L294.96 1020.68L302.45 1002.12M313.69 1002.11L317.44 1040.26L321.19 1002.09M332.43 1002.08L339.92 1023.53L347.42 1023.92L354.91 1028.55L362.41 1038.74L369.9 1047.08L377.39 1049.18L384.89 1046.39L392.38 1038.43L399.88 1024.77L407.37 1001.97M444.84 1001.92L452.34 1023.37L504.8 1023.3L512.29 1001.82M542.27 1001.78L549.76 1023.23L557.26 1029.58L564.75 1036.2L572.25 1040.16L579.74 1040.55L587.23 1036.43L594.73 1029.53L602.22 1024.48L609.72 1023.15L617.21 1001.67M647.19 1001.63L654.68 1023.08L662.18 1024.4L669.67 1029.42L677.17 1036.3L684.66 1040.4L692.15 1039.99L699.65 1036L707.14 1029.37L714.64 1023L722.13 1001.52M752.11 1001.48L759.6 1022.93L812.06 1022.86L819.56 1001.38M857.03 1001.33L864.52 1024.11L872.02 1037.74L879.51 1045.68L887.01 1048.46L894.5 1046.33L901.99 1037.97L909.49 1027.75L916.98 1023.11L924.48 1022.7L931.97 1001.22M943.21 1001.21L946.96 1039.36L950.71 1001.19M961.95 1001.18L969.44 1019.72L976.94 1066.08L984.43 1134.97L991.93 1207.84L999.42 1279.9L1006.91 1221.06L1014.41 1160.1L1021.9 1093.84L1029.4 1039.51L1036.89 1001.07M1066.87 1001.03L1074.36 1022.48L1104.34 1022.44L1111.83 1023.62L1119.33 1023.61L1126.82 1022.41L1156.79 1022.37L1156.8 1000.9" stroke="#0000ff" stroke-width=".95" fill="none" opacity=".5" stroke-linejoin="round"/>
<path d="M107.6 1002.4L107.61 1023.86L137.58 1023.82L145.07 1025L152.57 1024.99L160.06 1023.79L190.04 1023.75L197.53 1002.27M227.51 1002.23L235 1040.64L242.5 1094.96L249.99 1161.2L257.49 1222.14L264.98 1280.95L272.47 1208.86L279.97 1135.98L287.46 1067.07L294.96 1020.68L302.45 1002.12M313.69 1002.11L317.44 1040.26L321.19 1002.09M332.43 1002.08L339.92 1023.53L347.42 1023.92L354.91 1028.55L362.41 1038.74L369.9 1047.08L377.39 1049.18L384.89 1046.39L392.38 1038.43L399.88 1024.77L407.37 1001.97M444.84 1001.92L452.34 1023.37L504.8 1023.3L512.29 1001.82M542.27 1001.78L549.76 1023.23L557.26 1029.58L564.75 1036.2L572.25 1040.16L579.74 1040.55L587.23 1036.43L594.73 1029.53L602.22 1024.48L609.72 1023.15L617.21 1001.67M647.19 1001.63L654.68 1023.08L662.18 1024.4L669.67 1029.42L677.17 1036.3L684.66 1040.4L692.15 1039.99L699.65 1036L707.14 1029.37L714.64 1023L722.13 1001.52M752.11 1001.48L759.6 1022.93L812.06 1022.86L819.56 1001.38M857.03 1001.33L864.52 1024.11L872.02 1037.74L879.51 1045.68L887.01 1048.46L894.5 1046.33L901.99 1037.97L909.49 1027.75L916.98 1023.11L924.48 1022.7L931.97 1001.22M943.21 1001.21L946.96 1039.36L950.71 1001.19M961.95 1001.18L969.44 1019.72L976.94 1066.08L984.43 1134.97L991.93 1207.84L999.42 1279.9L1006.91 1221.06L1014.41 1160.1L1021.9 1093.84L1029.4 1039.51L1036.89 1001.07M1066.87 1001.03L1074.36 1022.48L1104.34 1022.44L1111.83 1023.62L1119.33 1023.61L1126.82 1022.41L1156.79 1022.37L1156.8 1000.9" stroke="#0000ff" stroke-width=".95" fill="none" opacity=".8" stroke-linejoin="round" stroke-dasharray="3 1"/>
<polygon points="314.04,1002.1 317.44,1040.26 320.84,1002.1" fill="#0000ff" opacity=".75"/>
<polygon points="943.56,1001.2 946.96,1039.36 950.36,1001.2" fill="#0000ff" opacity=".75"/>
<polygon points="106.1,997.2 1157.3,995.7 1157.3,1006.1 106.1,1007.6" fill="#a9a9a9" opacity=".8"/>
<path d="M106.1 996.8L1157.3 995.3" stroke="#b2b2b2" stroke-width="1" stroke-dasharray="1.6 1.6" opacity=".86"/>
<path d="M106.1 1008L1157.3 1006.5" stroke="#b2b2b2" stroke-width="1" stroke-dasharray="1.6 1.6" opacity=".86"/>
<path d="M107.6 1002.4L1156.8 1000.9" stroke="#e25a5a" stroke-width="1" opacity=".55"/><path d="M0 1002.5 H106.1" stroke="#2a9090" stroke-width="1" opacity=".75"/>
<path d="M0 1002.5 H106.1" stroke="#000" stroke-width="1.2" stroke-dasharray="2.6 1.4 1 1.4"/>
<path d="M61.7 1002.5 H73.6" stroke="#008c8c" stroke-width="1.5"/>
<circle cx="55.3" cy="1002.6" r="1.8" fill="#7a0a0a"/>
<path d="M1157.8 1000.9L1208.5 1000.8" stroke="#2a9090" stroke-width="1" opacity=".6"/>
<path d="M1157.8 1000.9L1208.5 1000.8" stroke="#111" stroke-width="1.1" stroke-dasharray="2.6 1.4 1 1.4" opacity=".9"/>
<rect x="1155.6" y="998.4" width="2.4" height="5" fill="#c04030" opacity=".8"/></g>
<g class="lb"><text transform="translate(91.5 52.7) scale(.842 1)" fill="#00c400">22.78</text>
<text transform="translate(196.7 52.7) scale(.842 1)" fill="#00c400">22.78</text>
<text transform="translate(259.3 52.7) scale(.842 1)" fill="#00c400">22.78</text>
<text transform="translate(362 52.7) scale(.842 1)" fill="#00c400">22.78</text>
<text transform="translate(510 52.7) scale(.842 1)" fill="#00c400">22.78</text>
<text transform="translate(616 52.7) scale(.842 1)" fill="#00c400">22.78</text>
<text transform="translate(720.7 52.7) scale(.842 1)" fill="#00c400">22.78</text>
<text transform="translate(782.7 52.7) scale(.842 1)" fill="#00c400">22.78</text>
<text transform="translate(887.7 52.7) scale(.842 1)" fill="#00c400">22.78</text>
<text transform="translate(1036 52.7) scale(.842 1)" fill="#00c400">22.78</text>
<text transform="translate(1097.4 51) scale(.842 1)" fill="#00c400">22.78</text>
<text transform="translate(91 228) scale(.842 1)" fill="#e8900a">21.21</text>
<text transform="translate(153.5 228) scale(.842 1)" fill="#e8900a">21.21</text>
<text transform="translate(301.5 228) scale(.842 1)" fill="#e8900a">21.21</text>
<text transform="translate(362 228) scale(.842 1)" fill="#e8900a">21.21</text>
<text transform="translate(510 228) scale(.842 1)" fill="#e8900a">21.21</text>
<text transform="translate(616 228) scale(.842 1)" fill="#e8900a">21.21</text>
<text transform="translate(720.7 228) scale(.842 1)" fill="#e8900a">21.21</text>
<text transform="translate(782.7 228) scale(.842 1)" fill="#e8900a">21.21</text>
<text transform="translate(887.7 228) scale(.842 1)" fill="#e8900a">21.21</text>
<text transform="translate(1036 228) scale(.842 1)" fill="#e8900a">21.21</text>
<text transform="translate(1097.4 228) scale(.842 1)" fill="#e8900a">21.21</text>
<text transform="translate(197.4 84.6) scale(.842 1)" fill="#ff0000">13.05</text>
<text transform="translate(259.3 54.8) scale(.842 1)" fill="#ff0000">22.11</text>
<text transform="translate(405 113.5) scale(.842 1)" fill="#ff0000">4.54</text>
<text transform="translate(510 115) scale(.842 1)" fill="#ff0000">4.07</text>
<text transform="translate(579 107.5) scale(.842 1)" fill="#ff0000">6.06</text>
<text transform="translate(720.8 113.7) scale(.842 1)" fill="#ff0000">4.07</text>
<text transform="translate(825.8 113) scale(.842 1)" fill="#ff0000">4.54</text>
<text transform="translate(887.7 53.5) scale(.842 1)" fill="#ff0000">22.11</text>
<text transform="translate(930.9 53.5) scale(.842 1)" fill="#ff0000">22.11</text>
<text transform="translate(993.5 83.5) scale(.842 1)" fill="#ff0000">13.05</text>
<text transform="translate(119 165) scale(.842 1)" fill="#0000ff">1.71</text>
<text transform="translate(227.5 227.5) scale(.842 1)" fill="#0000ff">21.04</text>
<text transform="translate(301.5 167.5) scale(.842 1)" fill="#0000ff">2.88</text>
<text transform="translate(343 170) scale(.842 1)" fill="#0000ff">3.56</text>
<text transform="translate(440.5 164) scale(.842 1)" fill="#0000ff">1.62</text>
<text transform="translate(545 168) scale(.842 1)" fill="#0000ff">2.93</text>
<text transform="translate(650.2 167.8) scale(.842 1)" fill="#0000ff">2.93</text>
<text transform="translate(756.4 162.6) scale(.842 1)" fill="#0000ff">1.62</text>
<text transform="translate(852.6 168.5) scale(.842 1)" fill="#0000ff">3.56</text>
<text transform="translate(895 167) scale(.842 1)" fill="#0000ff">2.88</text>
<text transform="translate(961.5 226.5) scale(.842 1)" fill="#0000ff">21.04</text>
<text transform="translate(1078 163.5) scale(.842 1)" fill="#0000ff">1.71</text>
<text transform="translate(105 436.6) scale(.842 1)" fill="#00c400">7.85</text>
<text transform="translate(207.4 436.6) scale(.842 1)" fill="#00c400">7.85</text>
<text transform="translate(418.8 436.6) scale(.842 1)" fill="#00c400">7.85</text>
<text transform="translate(488.1 436.6) scale(.842 1)" fill="#00c400">7.85</text>
<text transform="translate(592.7 436.6) scale(.842 1)" fill="#00c400">7.85</text>
<text transform="translate(697.4 436.6) scale(.842 1)" fill="#00c400">7.85</text>
<text transform="translate(838.1 436.6) scale(.842 1)" fill="#00c400">7.85</text>
<text transform="translate(947.1 436.6) scale(.842 1)" fill="#00c400">7.85</text>
<text transform="translate(1117.2 436.6) scale(.842 1)" fill="#00c400">7.85</text>
<text transform="translate(159.5 384) scale(.842 1)" fill="#00c400">15.71</text>
<text transform="translate(210.7 384) scale(.842 1)" fill="#00c400">15.71</text>
<text transform="translate(280.8 337.2) scale(.842 1)" fill="#00c400">22.78</text>
<text transform="translate(314.6 337.2) scale(.842 1)" fill="#00c400">22.78</text>
<text transform="translate(901.2 336.6) scale(.842 1)" fill="#00c400">22.78</text>
<text transform="translate(908.8 336.6) scale(.842 1)" fill="#00c400">22.78</text>
<text transform="translate(1006.7 384) scale(.842 1)" fill="#00c400">15.71</text>
<text transform="translate(105 571) scale(.842 1)" fill="#e8900a">7.85</text>
<text transform="translate(174.4 571) scale(.842 1)" fill="#e8900a">7.85</text>
<text transform="translate(277.5 571) scale(.842 1)" fill="#e8900a">7.85</text>
<text transform="translate(412.6 571) scale(.842 1)" fill="#e8900a">7.85</text>
<text transform="translate(509.7 571) scale(.842 1)" fill="#e8900a">7.85</text>
<text transform="translate(615 571) scale(.842 1)" fill="#e8900a">7.85</text>
<text transform="translate(719.6 571) scale(.842 1)" fill="#e8900a">7.85</text>
<text transform="translate(824.5 571) scale(.842 1)" fill="#e8900a">7.85</text>
<text transform="translate(907.8 571) scale(.842 1)" fill="#e8900a">7.85</text>
<text transform="translate(1012.7 571) scale(.842 1)" fill="#e8900a">7.85</text>
<text transform="translate(1117.2 571) scale(.842 1)" fill="#e8900a">7.85</text>
<text transform="translate(218 659) scale(.842 1)" fill="#e8900a">21.21</text>
<text transform="translate(959.7 658.3) scale(.842 1)" fill="#e8900a">21.21</text>
<text transform="translate(210.7 402.2) scale(.842 1)" fill="#ff0000">13.05</text>
<text transform="translate(271.5 342.8) scale(.842 1)" fill="#ff0000">22.11</text>
<text transform="translate(418.8 458.7) scale(.842 1)" fill="#ff0000">4.54</text>
<text transform="translate(523.8 461.4) scale(.842 1)" fill="#ff0000">4.07</text>
<text transform="translate(629.3 448.7) scale(.842 1)" fill="#ff0000">6.06</text>
<text transform="translate(697.4 462.3) scale(.842 1)" fill="#ff0000">4.07</text>
<text transform="translate(801.8 457.2) scale(.842 1)" fill="#ff0000">4.54</text>
<text transform="translate(943.1 341.7) scale(.842 1)" fill="#ff0000">22.11</text>
<text transform="translate(1006.7 402.2) scale(.842 1)" fill="#ff0000">13.05</text>
<text transform="translate(132.1 530.4) scale(.842 1)" fill="#0000ff">1.71</text>
<text transform="translate(240.5 658.2) scale(.842 1)" fill="#0000ff">21.04</text>
<text transform="translate(314.8 538.6) scale(.842 1)" fill="#0000ff">2.88</text>
<text transform="translate(356.4 542.8) scale(.842 1)" fill="#0000ff">3.56</text>
<text transform="translate(455.2 530) scale(.842 1)" fill="#0000ff">1.62</text>
<text transform="translate(558.5 537.5) scale(.842 1)" fill="#0000ff">2.93</text>
<text transform="translate(664.1 538) scale(.842 1)" fill="#0000ff">2.93</text>
<text transform="translate(769.5 529.4) scale(.842 1)" fill="#0000ff">1.62</text>
<text transform="translate(865.4 542) scale(.842 1)" fill="#0000ff">3.56</text>
<text transform="translate(907.8 538) scale(.842 1)" fill="#0000ff">2.88</text>
<text transform="translate(975.9 657) scale(.842 1)" fill="#0000ff">21.04</text>
<text transform="translate(1091.9 530) scale(.842 1)" fill="#0000ff">1.71</text>
<text transform="translate(113.2 930.6) scale(.842 1)" fill="#00c400">4.71</text>
<text transform="translate(221.3 930.6) scale(.842 1)" fill="#00c400">4.71</text>
<text transform="translate(427.2 929.2) scale(.842 1)" fill="#00c400">4.71</text>
<text transform="translate(496.1 928.8) scale(.842 1)" fill="#00c400">4.71</text>
<text transform="translate(706 929.2) scale(.842 1)" fill="#00c400">4.71</text>
<text transform="translate(811.1 929) scale(.842 1)" fill="#00c400">4.71</text>
<text transform="translate(964.7 929.1) scale(.842 1)" fill="#00c400">4.71</text>
<text transform="translate(1126 928.3) scale(.842 1)" fill="#00c400">4.71</text>
<text transform="translate(174.5 805.7) scale(.842 1)" fill="#00c400">14.14</text>
<text transform="translate(218.3 805.7) scale(.842 1)" fill="#00c400">14.14</text>
<text transform="translate(279.8 690.6) scale(.842 1)" fill="#00c400">22.78</text>
<text transform="translate(290.9 690.6) scale(.842 1)" fill="#00c400">22.78</text>
<text transform="translate(603.8 867.5) scale(.842 1)" fill="#00c400">9.42</text>
<text transform="translate(636.7 867.5) scale(.842 1)" fill="#00c400">9.42</text>
<text transform="translate(908.7 689.7) scale(.842 1)" fill="#00c400">22.78</text>
<text transform="translate(922.7 689.7) scale(.842 1)" fill="#00c400">22.78</text>
<text transform="translate(1014.5 803.9) scale(.842 1)" fill="#00c400">14.14</text>
<text transform="translate(112.9 1085.3) scale(.842 1)" fill="#e8900a">4.71</text>
<text transform="translate(218.4 1085.3) scale(.842 1)" fill="#e8900a">4.71</text>
<text transform="translate(287.5 1085.3) scale(.842 1)" fill="#e8900a">4.71</text>
<text transform="translate(421.3 1085.3) scale(.842 1)" fill="#e8900a">4.71</text>
<text transform="translate(518.4 1085.3) scale(.842 1)" fill="#e8900a">4.71</text>
<text transform="translate(622.9 1085.3) scale(.842 1)" fill="#e8900a">4.71</text>
<text transform="translate(728.1 1085.3) scale(.842 1)" fill="#e8900a">4.71</text>
<text transform="translate(832.9 1085.3) scale(.842 1)" fill="#e8900a">4.71</text>
<text transform="translate(915.9 1085.3) scale(.842 1)" fill="#e8900a">4.71</text>
<text transform="translate(1020.7 1085.3) scale(.842 1)" fill="#e8900a">4.71</text>
<text transform="translate(1126 1085.3) scale(.842 1)" fill="#e8900a">4.71</text>
<text transform="translate(233.2 1304.7) scale(.842 1)" fill="#e8900a">21.21</text>
<text transform="translate(968.8 1304.6) scale(.842 1)" fill="#e8900a">21.21</text>
<text transform="translate(218.3 819.4) scale(.842 1)" fill="#ff0000">13.05</text>
<text transform="translate(279.8 700.4) scale(.842 1)" fill="#ff0000">22.11</text>
<text transform="translate(427.2 932.2) scale(.842 1)" fill="#ff0000">4.54</text>
<text transform="translate(496.6 938.6) scale(.842 1)" fill="#ff0000">4.07</text>
<text transform="translate(636.6 911.5) scale(.842 1)" fill="#ff0000">6.06</text>
<text transform="translate(741.7 938.6) scale(.842 1)" fill="#ff0000">4.07</text>
<text transform="translate(811.1 932) scale(.842 1)" fill="#ff0000">4.54</text>
<text transform="translate(951.6 698.7) scale(.842 1)" fill="#ff0000">22.11</text>
<text transform="translate(1014.5 819) scale(.842 1)" fill="#ff0000">13.05</text>
<text transform="translate(139.6 1045.7) scale(.842 1)" fill="#0000ff">1.71</text>
<text transform="translate(249.3 1302.7) scale(.842 1)" fill="#0000ff">21.04</text>
<text transform="translate(323 1061.5) scale(.842 1)" fill="#0000ff">2.88</text>
<text transform="translate(364.7 1070.4) scale(.842 1)" fill="#0000ff">3.56</text>
<text transform="translate(462.6 1044.4) scale(.842 1)" fill="#0000ff">1.62</text>
<text transform="translate(566.7 1061.2) scale(.842 1)" fill="#0000ff">2.93</text>
<text transform="translate(671.3 1061.2) scale(.842 1)" fill="#0000ff">2.93</text>
<text transform="translate(777.9 1043.6) scale(.842 1)" fill="#0000ff">1.62</text>
<text transform="translate(873.7 1069.1) scale(.842 1)" fill="#0000ff">3.56</text>
<text transform="translate(915.4 1060.6) scale(.842 1)" fill="#0000ff">2.88</text>
<text transform="translate(982.7 1302) scale(.842 1)" fill="#0000ff">21.04</text>
<text transform="translate(1099 1045.2) scale(.842 1)" fill="#0000ff">1.71</text></g>
<text x="6.2" y="18" class="tt" textLength="138.8" lengthAdjust="spacingAndGlyphs">RF-CONCRETE Members PŘ1</text>
<text x="4.2" y="334" class="tt" textLength="139.8" lengthAdjust="spacingAndGlyphs">RF-CONCRETE Members PŘ2</text>
<text x="7.2" y="681" class="tt" textLength="139.8" lengthAdjust="spacingAndGlyphs">RF-CONCRETE Members PŘ3</text>
<text x="6.2" y="269" class="st" textLength="184.2" lengthAdjust="spacingAndGlyphs">Max A-s,+z (dolní),návrh.: 21.21 cm^2</text>
<text x="6.2" y="282" class="st" textLength="184.2" lengthAdjust="spacingAndGlyphs">Max A-s,-z (horní),návrh.: 22.78 cm^2</text>
<text x="6.2" y="295" class="st" textLength="150.3" lengthAdjust="spacingAndGlyphs">Max A-s,+z (dolní): 21.04 cm^2</text>
<text x="6.2" y="308" class="st" textLength="150.3" lengthAdjust="spacingAndGlyphs">Max A-s,-z (horní): 22.11 cm^2</text>
<text x="4.2" y="617" class="st" textLength="184.2" lengthAdjust="spacingAndGlyphs">Max A-s,+z (dolní),návrh.: 21.21 cm^2</text>
<text x="4.2" y="630" class="st" textLength="184.2" lengthAdjust="spacingAndGlyphs">Max A-s,-z (horní),návrh.: 22.78 cm^2</text>
<text x="4.2" y="643" class="st" textLength="150.3" lengthAdjust="spacingAndGlyphs">Max A-s,+z (dolní): 21.04 cm^2</text>
<text x="4.2" y="656" class="st" textLength="150.3" lengthAdjust="spacingAndGlyphs">Max A-s,-z (horní): 22.11 cm^2</text>
<text x="7.2" y="1270" class="st" textLength="184.2" lengthAdjust="spacingAndGlyphs">Max A-s,+z (dolní),návrh.: 21.21 cm^2</text>
<text x="7.2" y="1283" class="st" textLength="184.2" lengthAdjust="spacingAndGlyphs">Max A-s,-z (horní),návrh.: 22.78 cm^2</text>
<text x="7.2" y="1296" class="st" textLength="150.3" lengthAdjust="spacingAndGlyphs">Max A-s,+z (dolní): 21.04 cm^2</text>
<text x="7.2" y="1309" class="st" textLength="150.3" lengthAdjust="spacingAndGlyphs">Max A-s,-z (horní): 22.11 cm^2</text>
<circle cx="55.3" cy="210.4" r="10.9" fill="#000" opacity=".13" filter="url(#bl)"/><circle cx="54" cy="208.8" r="10.8" fill="#4e81bd"/><text x="54" y="213.8" class="cn">1</text>
<circle cx="78.3" cy="555.4" r="10.9" fill="#000" opacity=".13" filter="url(#bl)"/><circle cx="77" cy="553.8" r="10.8" fill="#d86244"/><text x="77" y="558.8" class="cn">3</text>
<circle cx="319.1" cy="598.7" r="10.9" fill="#000" opacity=".13" filter="url(#bl)"/><circle cx="317.8" cy="597.1" r="10.8" fill="#d86244"/><text x="317.8" y="602.1" class="cn">1</text>
<circle cx="290.3" cy="637.4" r="10.9" fill="#000" opacity=".13" filter="url(#bl)"/><circle cx="289" cy="635.8" r="10.8" fill="#d86244"/><text x="289" y="640.8" class="cn">2</text>
<circle cx="72.3" cy="1066.8" r="10.9" fill="#000" opacity=".13" filter="url(#bl)"/><circle cx="71" cy="1065.2" r="10.8" fill="#9467bd"/><text x="71" y="1070.2" class="cn">1</text>
<circle cx="203.6" cy="1128.7" r="10.9" fill="#000" opacity=".13" filter="url(#bl)"/><circle cx="202.3" cy="1127.1" r="10.8" fill="#9467bd"/><text x="202.3" y="1132.1" class="cn">2</text>
<circle cx="210.5" cy="1189.4" r="10.9" fill="#000" opacity=".13" filter="url(#bl)"/><circle cx="209.2" cy="1187.8" r="10.8" fill="#9467bd"/><text x="209.2" y="1192.8" class="cn">3</text>
<circle cx="216.4" cy="1252.5" r="10.9" fill="#000" opacity=".13" filter="url(#bl)"/><circle cx="215.1" cy="1250.9" r="10.8" fill="#9467bd"/><text x="215.1" y="1255.9" class="cn">4</text>
<circle cx="215.5" cy="1281" r="10.9" fill="#000" opacity=".13" filter="url(#bl)"/><circle cx="214.2" cy="1279.4" r="10.8" fill="#9467bd"/><text x="214.2" y="1284.4" class="cn">5</text>
<rect x="0" y="0" width="1210" height="1" fill="#a6a6a6"/>
<rect x="1" y="1" width="1209" height="1" fill="#696969"/>
<rect x="0" y="0" width="1" height="317" fill="#a6a6a6"/>
<rect x="1" y="1" width="1" height="316" fill="#696969"/>
<rect x="1209" y="0" width="1" height="656" fill="#a2a2a2"/>
<rect x="0" y="316" width="1208" height="1" fill="#a6a6a6"/>
<rect x="0" y="317" width="1208" height="1" fill="#696969"/>
<rect x="1207" y="318" width="1" height="345" fill="#e8e8e8"/>
<rect x="1" y="663" width="1210" height="1" fill="#a6a6a6"/>
<rect x="2" y="664" width="1209" height="1" fill="#696969"/>
<rect x="1" y="663" width="1" height="655" fill="#a6a6a6"/>
<rect x="2" y="664" width="1" height="654" fill="#696969"/>
<rect x="1210" y="665" width="1" height="653" fill="#dedede"/>
<rect x="3" y="1317" width="1208" height="1" fill="#dedede"/>
<path d="M640 270.6V364.4" stroke="#ed1c24" stroke-width="5.6" stroke-linecap="round"/><polygon points="629.6,363.4 650.4,363.4 640,388.7" fill="#ed1c24"/>
<path d="M630 625.6V719.6" stroke="#ed1c24" stroke-width="5.6" stroke-linecap="round"/><polygon points="619.6,718.6 640.4,718.6 630,743.8" fill="#ed1c24"/>
</svg>
</body></html>
